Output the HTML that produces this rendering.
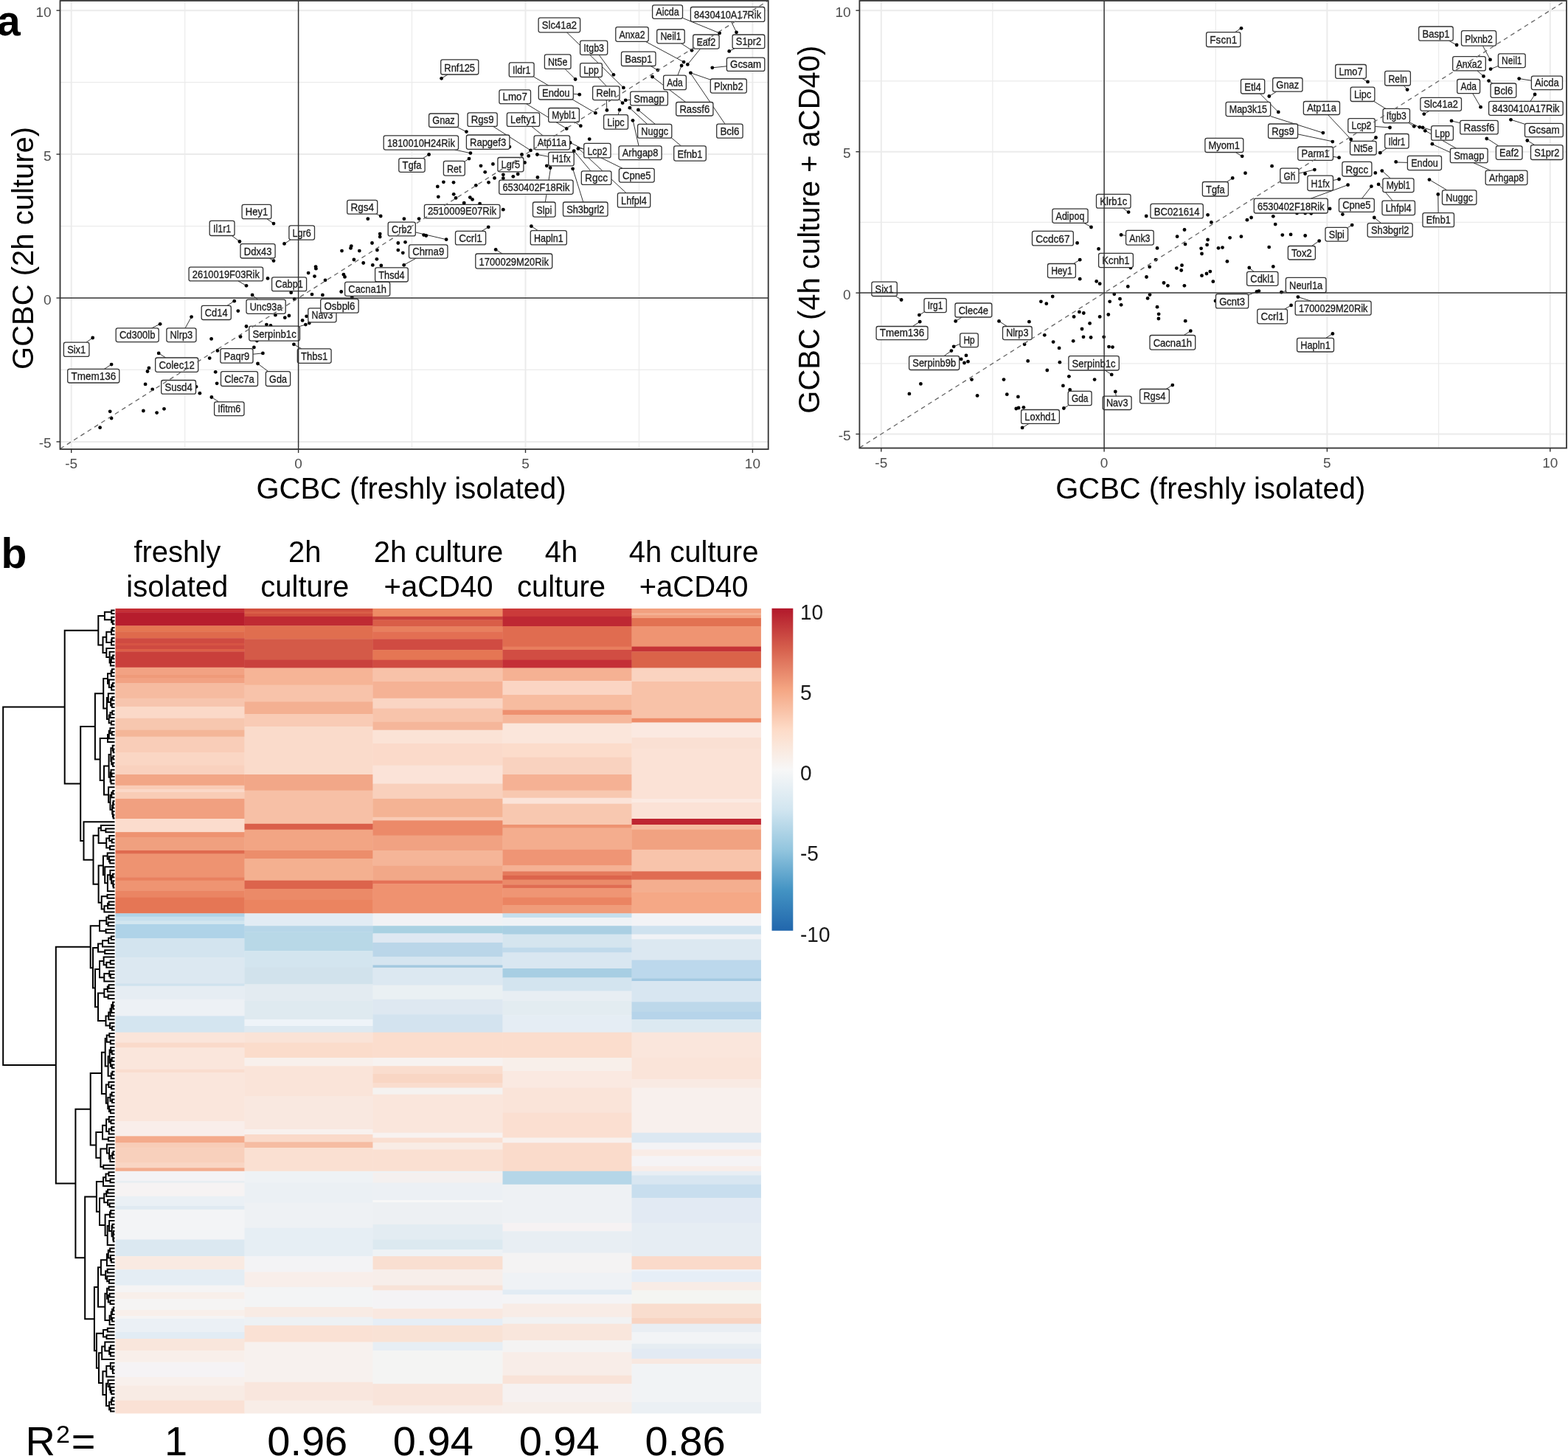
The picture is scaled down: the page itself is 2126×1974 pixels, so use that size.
<!DOCTYPE html><html><head><meta charset="utf-8"><title>Figure</title>
<style>html,body{margin:0;padding:0;background:#fff}svg{display:block}</style></head><body>
<svg width="2126" height="1974" viewBox="0 0 2126 1974" font-family="'Liberation Sans', Arial, sans-serif">
<rect width="2126" height="1974" fill="#fff"/>
<g>
<line x1="250.7" y1="1.0" x2="250.7" y2="609.0" stroke="#EBEBEB" stroke-width="1.2"/>
<line x1="81.5" y1="501.4" x2="1041.7" y2="501.4" stroke="#EBEBEB" stroke-width="1.2"/>
<line x1="558.5" y1="1.0" x2="558.5" y2="609.0" stroke="#EBEBEB" stroke-width="1.2"/>
<line x1="81.5" y1="306.6" x2="1041.7" y2="306.6" stroke="#EBEBEB" stroke-width="1.2"/>
<line x1="866.5" y1="1.0" x2="866.5" y2="609.0" stroke="#EBEBEB" stroke-width="1.2"/>
<line x1="81.5" y1="111.7" x2="1041.7" y2="111.7" stroke="#EBEBEB" stroke-width="1.2"/>
<line x1="96.7" y1="1.0" x2="96.7" y2="609.0" stroke="#EBEBEB" stroke-width="2"/>
<line x1="81.5" y1="598.9" x2="1041.7" y2="598.9" stroke="#EBEBEB" stroke-width="2"/>
<line x1="712.5" y1="1.0" x2="712.5" y2="609.0" stroke="#EBEBEB" stroke-width="2"/>
<line x1="81.5" y1="209.1" x2="1041.7" y2="209.1" stroke="#EBEBEB" stroke-width="2"/>
<line x1="1020.4" y1="1.0" x2="1020.4" y2="609.0" stroke="#EBEBEB" stroke-width="2"/>
<line x1="81.5" y1="14.2" x2="1041.7" y2="14.2" stroke="#EBEBEB" stroke-width="2"/>
<line x1="925.5" y1="24.4" x2="975.6" y2="44.9" stroke="#333" stroke-width="1"/>
<line x1="991.5" y1="29.4" x2="998.5" y2="43.8" stroke="#333" stroke-width="1"/>
<line x1="768.4" y1="43.8" x2="845.4" y2="118.9" stroke="#333" stroke-width="1"/>
<line x1="812.1" y1="74.3" x2="831.9" y2="101.3" stroke="#333" stroke-width="1"/>
<line x1="875.3" y1="56.3" x2="927.1" y2="84.1" stroke="#333" stroke-width="1"/>
<line x1="923.6" y1="58.8" x2="938.0" y2="68.3" stroke="#333" stroke-width="1"/>
<line x1="949.6" y1="66.1" x2="932.3" y2="87.4" stroke="#333" stroke-width="1"/>
<line x1="996.1" y1="65.7" x2="988.7" y2="69.4" stroke="#333" stroke-width="1"/>
<line x1="882.2" y1="89.5" x2="891.8" y2="95.1" stroke="#333" stroke-width="1"/>
<line x1="985.4" y1="89.8" x2="965.8" y2="91.8" stroke="#333" stroke-width="1"/>
<line x1="766.0" y1="93.4" x2="779.9" y2="107.2" stroke="#333" stroke-width="1"/>
<line x1="810.5" y1="104.5" x2="844.1" y2="139.6" stroke="#333" stroke-width="1"/>
<line x1="822.2" y1="135.6" x2="822.9" y2="149.5" stroke="#333" stroke-width="1"/>
<line x1="918.9" y1="102.1" x2="924.1" y2="89.0" stroke="#333" stroke-width="1"/>
<line x1="963.3" y1="108.1" x2="936.4" y2="98.8" stroke="#333" stroke-width="1"/>
<line x1="983.0" y1="168.2" x2="935.0" y2="97.5" stroke="#333" stroke-width="1"/>
<line x1="929.7" y1="138.5" x2="884.6" y2="104.2" stroke="#333" stroke-width="1"/>
<line x1="854.7" y1="135.4" x2="848.2" y2="135.9" stroke="#333" stroke-width="1"/>
<line x1="777.3" y1="127.3" x2="785.6" y2="128.0" stroke="#333" stroke-width="1"/>
<line x1="779.5" y1="165.7" x2="787.1" y2="170.6" stroke="#333" stroke-width="1"/>
<line x1="838.1" y1="155.7" x2="840.2" y2="149.0" stroke="#333" stroke-width="1"/>
<line x1="877.5" y1="168.3" x2="853.6" y2="146.2" stroke="#333" stroke-width="1"/>
<line x1="866.0" y1="197.8" x2="858.2" y2="163.2" stroke="#333" stroke-width="1"/>
<line x1="923.4" y1="197.8" x2="865.4" y2="149.0" stroke="#333" stroke-width="1"/>
<line x1="791.7" y1="201.8" x2="784.4" y2="200.9" stroke="#333" stroke-width="1"/>
<line x1="844.3" y1="228.4" x2="774.1" y2="193.9" stroke="#333" stroke-width="1"/>
<line x1="849.0" y1="261.6" x2="783.8" y2="200.8" stroke="#333" stroke-width="1"/>
<line x1="800.9" y1="231.8" x2="778.6" y2="205.0" stroke="#333" stroke-width="1"/>
<line x1="790.8" y1="274.0" x2="776.6" y2="228.7" stroke="#333" stroke-width="1"/>
<line x1="739.3" y1="274.0" x2="746.6" y2="227.9" stroke="#333" stroke-width="1"/>
<line x1="743.7" y1="212.3" x2="728.4" y2="209.5" stroke="#333" stroke-width="1"/>
<line x1="720.8" y1="171.4" x2="746.0" y2="192.0" stroke="#333" stroke-width="1"/>
<line x1="723.7" y1="104.2" x2="807.3" y2="153.1" stroke="#333" stroke-width="1"/>
<line x1="713.5" y1="140.7" x2="767.8" y2="174.1" stroke="#333" stroke-width="1"/>
<line x1="607.1" y1="101.0" x2="598.6" y2="106.3" stroke="#333" stroke-width="1"/>
<line x1="620.1" y1="172.5" x2="632.4" y2="178.6" stroke="#333" stroke-width="1"/>
<line x1="668.6" y1="171.4" x2="719.5" y2="203.9" stroke="#333" stroke-width="1"/>
<line x1="616.6" y1="203.1" x2="637.9" y2="207.6" stroke="#333" stroke-width="1"/>
<line x1="573.3" y1="214.7" x2="581.6" y2="209.5" stroke="#333" stroke-width="1"/>
<line x1="630.3" y1="218.8" x2="636.0" y2="215.1" stroke="#333" stroke-width="1"/>
<line x1="563.3" y1="314.9" x2="605.1" y2="324.7" stroke="#333" stroke-width="1"/>
<line x1="653.1" y1="313.4" x2="662.2" y2="307.8" stroke="#333" stroke-width="1"/>
<line x1="564.2" y1="350.1" x2="547.5" y2="359.3" stroke="#333" stroke-width="1"/>
<line x1="729.3" y1="312.6" x2="720.4" y2="306.7" stroke="#333" stroke-width="1"/>
<line x1="681.0" y1="344.0" x2="672.2" y2="338.4" stroke="#333" stroke-width="1"/>
<line x1="510.5" y1="290.2" x2="516.2" y2="293.0" stroke="#333" stroke-width="1"/>
<line x1="361.8" y1="296.7" x2="371.0" y2="303.1" stroke="#333" stroke-width="1"/>
<line x1="314.4" y1="319.5" x2="324.9" y2="327.5" stroke="#333" stroke-width="1"/>
<line x1="393.9" y1="325.1" x2="385.5" y2="330.4" stroke="#333" stroke-width="1"/>
<line x1="365.2" y1="350.0" x2="371.0" y2="353.6" stroke="#333" stroke-width="1"/>
<line x1="322.8" y1="380.9" x2="334.0" y2="387.3" stroke="#333" stroke-width="1"/>
<line x1="349.4" y1="406.1" x2="342.1" y2="399.9" stroke="#333" stroke-width="1"/>
<line x1="308.0" y1="414.4" x2="317.7" y2="408.1" stroke="#333" stroke-width="1"/>
<line x1="406.5" y1="442.4" x2="414.6" y2="440.1" stroke="#333" stroke-width="1"/>
<line x1="408.8" y1="472.8" x2="398.5" y2="467.0" stroke="#333" stroke-width="1"/>
<line x1="117.0" y1="464.2" x2="125.7" y2="458.0" stroke="#333" stroke-width="1"/>
<line x1="205.5" y1="444.9" x2="217.1" y2="439.3" stroke="#333" stroke-width="1"/>
<line x1="251.1" y1="444.9" x2="259.4" y2="429.9" stroke="#333" stroke-width="1"/>
<line x1="141.4" y1="500.3" x2="151.1" y2="494.1" stroke="#333" stroke-width="1"/>
<line x1="224.7" y1="485.0" x2="215.2" y2="478.9" stroke="#333" stroke-width="1"/>
<line x1="343.0" y1="480.2" x2="356.4" y2="478.9" stroke="#333" stroke-width="1"/>
<line x1="363.8" y1="503.7" x2="349.5" y2="493.0" stroke="#333" stroke-width="1"/>
<line x1="296.6" y1="544.9" x2="286.9" y2="538.5" stroke="#333" stroke-width="1"/>
<circle cx="498.8" cy="296.7" r="2.4" fill="#000"/>
<circle cx="516.2" cy="293.0" r="2.4" fill="#000"/>
<circle cx="547.9" cy="296.7" r="2.4" fill="#000"/>
<circle cx="515.2" cy="317.1" r="2.4" fill="#000"/>
<circle cx="515.2" cy="321.1" r="2.4" fill="#000"/>
<circle cx="504.5" cy="329.5" r="2.4" fill="#000"/>
<circle cx="539.8" cy="329.5" r="2.4" fill="#000"/>
<circle cx="549.5" cy="328.3" r="2.4" fill="#000"/>
<circle cx="476.3" cy="333.6" r="2.4" fill="#000"/>
<circle cx="475.5" cy="336.4" r="2.4" fill="#000"/>
<circle cx="463.5" cy="340.1" r="2.4" fill="#000"/>
<circle cx="487.3" cy="340.1" r="2.4" fill="#000"/>
<circle cx="511.4" cy="339.1" r="2.4" fill="#000"/>
<circle cx="539.8" cy="339.1" r="2.4" fill="#000"/>
<circle cx="546.3" cy="342.8" r="2.4" fill="#000"/>
<circle cx="479.9" cy="352.0" r="2.4" fill="#000"/>
<circle cx="492.7" cy="356.5" r="2.4" fill="#000"/>
<circle cx="510.9" cy="351.3" r="2.4" fill="#000"/>
<circle cx="505.3" cy="359.4" r="2.4" fill="#000"/>
<circle cx="516.8" cy="360.0" r="2.4" fill="#000"/>
<circle cx="428.1" cy="361.6" r="2.4" fill="#000"/>
<circle cx="428.4" cy="364.2" r="2.4" fill="#000"/>
<circle cx="418.1" cy="370.1" r="2.4" fill="#000"/>
<circle cx="426.5" cy="374.6" r="2.4" fill="#000"/>
<circle cx="465.9" cy="372.2" r="2.4" fill="#000"/>
<circle cx="467.5" cy="375.4" r="2.4" fill="#000"/>
<circle cx="441.0" cy="379.8" r="2.4" fill="#000"/>
<circle cx="363.0" cy="377.4" r="2.4" fill="#000"/>
<circle cx="371.0" cy="353.6" r="2.4" fill="#000"/>
<circle cx="342.1" cy="399.9" r="2.4" fill="#000"/>
<circle cx="423.0" cy="399.1" r="2.4" fill="#000"/>
<circle cx="437.4" cy="399.9" r="2.4" fill="#000"/>
<circle cx="399.2" cy="405.5" r="2.4" fill="#000"/>
<circle cx="322.8" cy="421.6" r="2.4" fill="#000"/>
<circle cx="373.4" cy="427.2" r="2.4" fill="#000"/>
<circle cx="386.3" cy="430.7" r="2.4" fill="#000"/>
<circle cx="391.9" cy="428.0" r="2.4" fill="#000"/>
<circle cx="410.1" cy="434.4" r="2.4" fill="#000"/>
<circle cx="415.6" cy="428.8" r="2.4" fill="#000"/>
<circle cx="414.4" cy="440.1" r="2.4" fill="#000"/>
<circle cx="419.3" cy="438.1" r="2.4" fill="#000"/>
<circle cx="334.0" cy="442.5" r="2.4" fill="#000"/>
<circle cx="361.4" cy="440.1" r="2.4" fill="#000"/>
<circle cx="367.0" cy="441.4" r="2.4" fill="#000"/>
<circle cx="259.6" cy="429.6" r="2.4" fill="#000"/>
<circle cx="326.0" cy="456.5" r="2.4" fill="#000"/>
<circle cx="286.6" cy="459.4" r="2.4" fill="#000"/>
<circle cx="371.0" cy="303.1" r="2.4" fill="#000"/>
<circle cx="324.9" cy="327.5" r="2.4" fill="#000"/>
<circle cx="385.5" cy="330.4" r="2.4" fill="#000"/>
<circle cx="334.0" cy="387.3" r="2.4" fill="#000"/>
<circle cx="394.7" cy="396.7" r="2.4" fill="#000"/>
<circle cx="462.7" cy="395.5" r="2.4" fill="#000"/>
<circle cx="317.7" cy="408.2" r="2.4" fill="#000"/>
<circle cx="348.4" cy="462.0" r="2.4" fill="#000"/>
<circle cx="344.4" cy="470.9" r="2.4" fill="#000"/>
<circle cx="294.9" cy="475.4" r="2.4" fill="#000"/>
<circle cx="356.4" cy="478.9" r="2.4" fill="#000"/>
<circle cx="284.2" cy="485.6" r="2.4" fill="#000"/>
<circle cx="349.5" cy="493.0" r="2.4" fill="#000"/>
<circle cx="292.2" cy="504.3" r="2.4" fill="#000"/>
<circle cx="294.1" cy="519.8" r="2.4" fill="#000"/>
<circle cx="270.9" cy="533.2" r="2.4" fill="#000"/>
<circle cx="286.9" cy="538.5" r="2.4" fill="#000"/>
<circle cx="201.9" cy="498.9" r="2.4" fill="#000"/>
<circle cx="200.0" cy="503.5" r="2.4" fill="#000"/>
<circle cx="197.1" cy="520.9" r="2.4" fill="#000"/>
<circle cx="206.7" cy="527.8" r="2.4" fill="#000"/>
<circle cx="149.2" cy="557.8" r="2.4" fill="#000"/>
<circle cx="151.1" cy="567.1" r="2.4" fill="#000"/>
<circle cx="135.6" cy="579.7" r="2.4" fill="#000"/>
<circle cx="194.4" cy="557.0" r="2.4" fill="#000"/>
<circle cx="212.6" cy="559.6" r="2.4" fill="#000"/>
<circle cx="222.5" cy="554.3" r="2.4" fill="#000"/>
<circle cx="215.2" cy="478.9" r="2.4" fill="#000"/>
<circle cx="217.1" cy="439.3" r="2.4" fill="#000"/>
<circle cx="125.7" cy="458.0" r="2.4" fill="#000"/>
<circle cx="151.1" cy="494.1" r="2.4" fill="#000"/>
<circle cx="266.0" cy="524.3" r="2.4" fill="#000"/>
<circle cx="398.4" cy="466.8" r="2.4" fill="#000"/>
<circle cx="975.6" cy="44.9" r="2.4" fill="#000"/>
<circle cx="998.5" cy="43.8" r="2.4" fill="#000"/>
<circle cx="988.7" cy="69.4" r="2.4" fill="#000"/>
<circle cx="938.0" cy="68.3" r="2.4" fill="#000"/>
<circle cx="927.1" cy="84.1" r="2.4" fill="#000"/>
<circle cx="932.3" cy="87.4" r="2.4" fill="#000"/>
<circle cx="924.1" cy="89.0" r="2.4" fill="#000"/>
<circle cx="936.4" cy="98.8" r="2.4" fill="#000"/>
<circle cx="965.8" cy="91.8" r="2.4" fill="#000"/>
<circle cx="891.8" cy="95.1" r="2.4" fill="#000"/>
<circle cx="884.6" cy="104.2" r="2.4" fill="#000"/>
<circle cx="831.9" cy="101.3" r="2.4" fill="#000"/>
<circle cx="845.4" cy="118.9" r="2.4" fill="#000"/>
<circle cx="780.1" cy="107.5" r="2.4" fill="#000"/>
<circle cx="785.7" cy="128.2" r="2.4" fill="#000"/>
<circle cx="848.2" cy="135.9" r="2.4" fill="#000"/>
<circle cx="844.1" cy="139.6" r="2.4" fill="#000"/>
<circle cx="822.9" cy="149.4" r="2.4" fill="#000"/>
<circle cx="840.0" cy="148.9" r="2.4" fill="#000"/>
<circle cx="853.9" cy="146.2" r="2.4" fill="#000"/>
<circle cx="865.4" cy="148.9" r="2.4" fill="#000"/>
<circle cx="858.0" cy="163.3" r="2.4" fill="#000"/>
<circle cx="807.4" cy="153.2" r="2.4" fill="#000"/>
<circle cx="787.3" cy="170.7" r="2.4" fill="#000"/>
<circle cx="768.2" cy="174.4" r="2.4" fill="#000"/>
<circle cx="799.2" cy="188.6" r="2.4" fill="#000"/>
<circle cx="773.1" cy="193.5" r="2.4" fill="#000"/>
<circle cx="598.6" cy="106.3" r="2.4" fill="#000"/>
<circle cx="632.4" cy="178.6" r="2.4" fill="#000"/>
<circle cx="637.9" cy="207.6" r="2.4" fill="#000"/>
<circle cx="636.0" cy="215.1" r="2.4" fill="#000"/>
<circle cx="581.6" cy="209.5" r="2.4" fill="#000"/>
<circle cx="690.9" cy="199.1" r="2.4" fill="#000"/>
<circle cx="719.5" cy="203.9" r="2.4" fill="#000"/>
<circle cx="707.5" cy="209.5" r="2.4" fill="#000"/>
<circle cx="716.7" cy="211.4" r="2.4" fill="#000"/>
<circle cx="728.4" cy="209.5" r="2.4" fill="#000"/>
<circle cx="783.9" cy="201.5" r="2.4" fill="#000"/>
<circle cx="778.2" cy="204.7" r="2.4" fill="#000"/>
<circle cx="711.5" cy="220.4" r="2.4" fill="#000"/>
<circle cx="668.4" cy="222.4" r="2.4" fill="#000"/>
<circle cx="652.0" cy="224.8" r="2.4" fill="#000"/>
<circle cx="657.7" cy="233.3" r="2.4" fill="#000"/>
<circle cx="682.3" cy="236.8" r="2.4" fill="#000"/>
<circle cx="682.3" cy="241.7" r="2.4" fill="#000"/>
<circle cx="670.5" cy="241.4" r="2.4" fill="#000"/>
<circle cx="695.8" cy="239.3" r="2.4" fill="#000"/>
<circle cx="702.2" cy="236.0" r="2.4" fill="#000"/>
<circle cx="741.3" cy="224.8" r="2.4" fill="#000"/>
<circle cx="746.1" cy="227.5" r="2.4" fill="#000"/>
<circle cx="728.9" cy="240.4" r="2.4" fill="#000"/>
<circle cx="776.6" cy="228.8" r="2.4" fill="#000"/>
<circle cx="662.5" cy="247.3" r="2.4" fill="#000"/>
<circle cx="645.3" cy="251.3" r="2.4" fill="#000"/>
<circle cx="601.4" cy="246.8" r="2.4" fill="#000"/>
<circle cx="615.0" cy="247.3" r="2.4" fill="#000"/>
<circle cx="593.3" cy="252.9" r="2.4" fill="#000"/>
<circle cx="615.2" cy="263.3" r="2.4" fill="#000"/>
<circle cx="618.0" cy="268.4" r="2.4" fill="#000"/>
<circle cx="594.3" cy="266.8" r="2.4" fill="#000"/>
<circle cx="637.3" cy="267.6" r="2.4" fill="#000"/>
<circle cx="640.5" cy="270.4" r="2.4" fill="#000"/>
<circle cx="629.2" cy="275.2" r="2.4" fill="#000"/>
<circle cx="650.6" cy="276.1" r="2.4" fill="#000"/>
<circle cx="682.3" cy="284.2" r="2.4" fill="#000"/>
<circle cx="568.1" cy="296.6" r="2.4" fill="#000"/>
<circle cx="574.6" cy="318.6" r="2.4" fill="#000"/>
<circle cx="577.8" cy="319.5" r="2.4" fill="#000"/>
<circle cx="605.1" cy="324.7" r="2.4" fill="#000"/>
<circle cx="547.7" cy="359.3" r="2.4" fill="#000"/>
<circle cx="662.2" cy="307.8" r="2.4" fill="#000"/>
<circle cx="672.2" cy="338.4" r="2.4" fill="#000"/>
<circle cx="720.4" cy="306.7" r="2.4" fill="#000"/>
<circle cx="477.3" cy="403.2" r="2.4" fill="#000"/>
<rect x="884.6" y="6.9" width="40.9" height="18.4" rx="2.5" fill="#fff" stroke="#333" stroke-width="1.3"/>
<text x="905.0" y="20.9" font-size="14.4" text-anchor="middle" fill="#1a1a1a" stroke="#1a1a1a" stroke-width="0.3" textLength="31.5" lengthAdjust="spacingAndGlyphs">Aicda</text>
<rect x="936.4" y="9.5" width="100.4" height="19.9" rx="2.5" fill="#fff" stroke="#333" stroke-width="1.3"/>
<text x="986.6" y="25.0" font-size="14.4" text-anchor="middle" fill="#1a1a1a" stroke="#1a1a1a" stroke-width="0.3" textLength="91.0" lengthAdjust="spacingAndGlyphs">8430410A17Rik</text>
<rect x="730.1" y="24.2" width="56.5" height="19.6" rx="2.5" fill="#fff" stroke="#333" stroke-width="1.3"/>
<text x="758.4" y="39.4" font-size="14.4" text-anchor="middle" fill="#1a1a1a" stroke="#1a1a1a" stroke-width="0.3" textLength="47.1" lengthAdjust="spacingAndGlyphs">Slc41a2</text>
<rect x="786.6" y="55.2" width="37.1" height="19.1" rx="2.5" fill="#fff" stroke="#333" stroke-width="1.3"/>
<text x="805.2" y="69.9" font-size="14.4" text-anchor="middle" fill="#1a1a1a" stroke="#1a1a1a" stroke-width="0.3" textLength="27.7" lengthAdjust="spacingAndGlyphs">Itgb3</text>
<rect x="834.8" y="36.7" width="44.4" height="19.6" rx="2.5" fill="#fff" stroke="#333" stroke-width="1.3"/>
<text x="857.0" y="51.9" font-size="14.4" text-anchor="middle" fill="#1a1a1a" stroke="#1a1a1a" stroke-width="0.3" textLength="35.0" lengthAdjust="spacingAndGlyphs">Anxa2</text>
<rect x="890.7" y="40.0" width="37.5" height="18.8" rx="2.5" fill="#fff" stroke="#333" stroke-width="1.3"/>
<text x="909.5" y="54.4" font-size="14.4" text-anchor="middle" fill="#1a1a1a" stroke="#1a1a1a" stroke-width="0.3" textLength="28.1" lengthAdjust="spacingAndGlyphs">Neil1</text>
<rect x="939.7" y="47.0" width="35.4" height="19.1" rx="2.5" fill="#fff" stroke="#333" stroke-width="1.3"/>
<text x="957.4" y="61.7" font-size="14.4" text-anchor="middle" fill="#1a1a1a" stroke="#1a1a1a" stroke-width="0.3" textLength="26.0" lengthAdjust="spacingAndGlyphs">Eaf2</text>
<rect x="993.1" y="47.0" width="43.7" height="18.7" rx="2.5" fill="#fff" stroke="#333" stroke-width="1.3"/>
<text x="1015.0" y="61.3" font-size="14.4" text-anchor="middle" fill="#1a1a1a" stroke="#1a1a1a" stroke-width="0.3" textLength="34.3" lengthAdjust="spacingAndGlyphs">S1pr2</text>
<rect x="842.5" y="70.2" width="46.5" height="19.3" rx="2.5" fill="#fff" stroke="#333" stroke-width="1.3"/>
<text x="865.8" y="85.1" font-size="14.4" text-anchor="middle" fill="#1a1a1a" stroke="#1a1a1a" stroke-width="0.3" textLength="37.1" lengthAdjust="spacingAndGlyphs">Basp1</text>
<rect x="985.4" y="78.1" width="51.4" height="18.3" rx="2.5" fill="#fff" stroke="#333" stroke-width="1.3"/>
<text x="1011.1" y="92.0" font-size="14.4" text-anchor="middle" fill="#1a1a1a" stroke="#1a1a1a" stroke-width="0.3" textLength="42.0" lengthAdjust="spacingAndGlyphs">Gcsam</text>
<rect x="738.4" y="73.8" width="35.6" height="19.6" rx="2.5" fill="#fff" stroke="#333" stroke-width="1.3"/>
<text x="756.2" y="89.0" font-size="14.4" text-anchor="middle" fill="#1a1a1a" stroke="#1a1a1a" stroke-width="0.3" textLength="26.2" lengthAdjust="spacingAndGlyphs">Nt5e</text>
<rect x="786.6" y="85.7" width="29.8" height="18.8" rx="2.5" fill="#fff" stroke="#333" stroke-width="1.3"/>
<text x="801.5" y="100.1" font-size="14.4" text-anchor="middle" fill="#1a1a1a" stroke="#1a1a1a" stroke-width="0.3" textLength="20.4" lengthAdjust="spacingAndGlyphs">Lpp</text>
<rect x="803.6" y="116.8" width="36.4" height="18.8" rx="2.5" fill="#fff" stroke="#333" stroke-width="1.3"/>
<text x="821.8" y="131.2" font-size="14.4" text-anchor="middle" fill="#1a1a1a" stroke="#1a1a1a" stroke-width="0.3" textLength="27.0" lengthAdjust="spacingAndGlyphs">Reln</text>
<rect x="899.6" y="102.1" width="30.8" height="19.6" rx="2.5" fill="#fff" stroke="#333" stroke-width="1.3"/>
<text x="915.0" y="117.3" font-size="14.4" text-anchor="middle" fill="#1a1a1a" stroke="#1a1a1a" stroke-width="0.3" textLength="21.4" lengthAdjust="spacingAndGlyphs">Ada</text>
<rect x="963.3" y="107.0" width="49.0" height="19.1" rx="2.5" fill="#fff" stroke="#333" stroke-width="1.3"/>
<text x="987.8" y="121.7" font-size="14.4" text-anchor="middle" fill="#1a1a1a" stroke="#1a1a1a" stroke-width="0.3" textLength="39.6" lengthAdjust="spacingAndGlyphs">Plxnb2</text>
<rect x="971.7" y="168.2" width="35.4" height="19.0" rx="2.5" fill="#fff" stroke="#333" stroke-width="1.3"/>
<text x="989.4" y="182.8" font-size="14.4" text-anchor="middle" fill="#1a1a1a" stroke="#1a1a1a" stroke-width="0.3" textLength="26.0" lengthAdjust="spacingAndGlyphs">Bcl6</text>
<rect x="916.7" y="138.5" width="50.2" height="18.5" rx="2.5" fill="#fff" stroke="#333" stroke-width="1.3"/>
<text x="941.8" y="152.6" font-size="14.4" text-anchor="middle" fill="#1a1a1a" stroke="#1a1a1a" stroke-width="0.3" textLength="40.8" lengthAdjust="spacingAndGlyphs">Rassf6</text>
<rect x="854.7" y="124.1" width="50.7" height="18.8" rx="2.5" fill="#fff" stroke="#333" stroke-width="1.3"/>
<text x="880.0" y="138.5" font-size="14.4" text-anchor="middle" fill="#1a1a1a" stroke="#1a1a1a" stroke-width="0.3" textLength="41.3" lengthAdjust="spacingAndGlyphs">Smagp</text>
<rect x="730.3" y="115.8" width="47.0" height="19.2" rx="2.5" fill="#fff" stroke="#333" stroke-width="1.3"/>
<text x="753.8" y="130.6" font-size="14.4" text-anchor="middle" fill="#1a1a1a" stroke="#1a1a1a" stroke-width="0.3" textLength="37.6" lengthAdjust="spacingAndGlyphs">Endou</text>
<rect x="743.7" y="146.5" width="41.7" height="19.2" rx="2.5" fill="#fff" stroke="#333" stroke-width="1.3"/>
<text x="764.5" y="161.3" font-size="14.4" text-anchor="middle" fill="#1a1a1a" stroke="#1a1a1a" stroke-width="0.3" textLength="32.3" lengthAdjust="spacingAndGlyphs">Mybl1</text>
<rect x="818.6" y="155.7" width="32.9" height="19.5" rx="2.5" fill="#fff" stroke="#333" stroke-width="1.3"/>
<text x="835.0" y="170.8" font-size="14.4" text-anchor="middle" fill="#1a1a1a" stroke="#1a1a1a" stroke-width="0.3" textLength="23.5" lengthAdjust="spacingAndGlyphs">Lipc</text>
<rect x="864.6" y="168.3" width="46.2" height="18.9" rx="2.5" fill="#fff" stroke="#333" stroke-width="1.3"/>
<text x="887.7" y="182.8" font-size="14.4" text-anchor="middle" fill="#1a1a1a" stroke="#1a1a1a" stroke-width="0.3" textLength="36.8" lengthAdjust="spacingAndGlyphs">Nuggc</text>
<rect x="839.1" y="197.8" width="58.0" height="18.9" rx="2.5" fill="#fff" stroke="#333" stroke-width="1.3"/>
<text x="868.1" y="212.3" font-size="14.4" text-anchor="middle" fill="#1a1a1a" stroke="#1a1a1a" stroke-width="0.3" textLength="48.6" lengthAdjust="spacingAndGlyphs">Arhgap8</text>
<rect x="913.7" y="197.8" width="43.6" height="20.3" rx="2.5" fill="#fff" stroke="#333" stroke-width="1.3"/>
<text x="935.5" y="213.7" font-size="14.4" text-anchor="middle" fill="#1a1a1a" stroke="#1a1a1a" stroke-width="0.3" textLength="34.2" lengthAdjust="spacingAndGlyphs">Efnb1</text>
<rect x="791.7" y="194.3" width="36.3" height="19.6" rx="2.5" fill="#fff" stroke="#333" stroke-width="1.3"/>
<text x="809.9" y="209.5" font-size="14.4" text-anchor="middle" fill="#1a1a1a" stroke="#1a1a1a" stroke-width="0.3" textLength="26.9" lengthAdjust="spacingAndGlyphs">Lcp2</text>
<rect x="839.4" y="228.4" width="47.8" height="18.7" rx="2.5" fill="#fff" stroke="#333" stroke-width="1.3"/>
<text x="863.3" y="242.7" font-size="14.4" text-anchor="middle" fill="#1a1a1a" stroke="#1a1a1a" stroke-width="0.3" textLength="38.4" lengthAdjust="spacingAndGlyphs">Cpne5</text>
<rect x="837.4" y="261.6" width="44.3" height="19.6" rx="2.5" fill="#fff" stroke="#333" stroke-width="1.3"/>
<text x="859.5" y="276.8" font-size="14.4" text-anchor="middle" fill="#1a1a1a" stroke="#1a1a1a" stroke-width="0.3" textLength="34.9" lengthAdjust="spacingAndGlyphs">Lhfpl4</text>
<rect x="788.3" y="231.8" width="40.6" height="18.6" rx="2.5" fill="#fff" stroke="#333" stroke-width="1.3"/>
<text x="808.6" y="246.0" font-size="14.4" text-anchor="middle" fill="#1a1a1a" stroke="#1a1a1a" stroke-width="0.3" textLength="31.2" lengthAdjust="spacingAndGlyphs">Rgcc</text>
<rect x="763.5" y="274.0" width="60.5" height="19.2" rx="2.5" fill="#fff" stroke="#333" stroke-width="1.3"/>
<text x="793.8" y="288.8" font-size="14.4" text-anchor="middle" fill="#1a1a1a" stroke="#1a1a1a" stroke-width="0.3" textLength="51.1" lengthAdjust="spacingAndGlyphs">Sh3bgrl2</text>
<rect x="722.5" y="274.0" width="30.5" height="20.1" rx="2.5" fill="#fff" stroke="#333" stroke-width="1.3"/>
<text x="737.8" y="289.7" font-size="14.4" text-anchor="middle" fill="#1a1a1a" stroke="#1a1a1a" stroke-width="0.3" textLength="21.1" lengthAdjust="spacingAndGlyphs">Slpi</text>
<rect x="743.7" y="206.3" width="34.5" height="18.5" rx="2.5" fill="#fff" stroke="#333" stroke-width="1.3"/>
<text x="761.0" y="220.4" font-size="14.4" text-anchor="middle" fill="#1a1a1a" stroke="#1a1a1a" stroke-width="0.3" textLength="25.1" lengthAdjust="spacingAndGlyphs">H1fx</text>
<rect x="724.1" y="183.8" width="48.5" height="19.0" rx="2.5" fill="#fff" stroke="#333" stroke-width="1.3"/>
<text x="748.4" y="198.4" font-size="14.4" text-anchor="middle" fill="#1a1a1a" stroke="#1a1a1a" stroke-width="0.3" textLength="39.1" lengthAdjust="spacingAndGlyphs">Atp11a</text>
<rect x="687.4" y="152.9" width="44.2" height="18.5" rx="2.5" fill="#fff" stroke="#333" stroke-width="1.3"/>
<text x="709.5" y="167.0" font-size="14.4" text-anchor="middle" fill="#1a1a1a" stroke="#1a1a1a" stroke-width="0.3" textLength="34.8" lengthAdjust="spacingAndGlyphs">Lefty1</text>
<rect x="690.3" y="84.9" width="33.8" height="19.3" rx="2.5" fill="#fff" stroke="#333" stroke-width="1.3"/>
<text x="707.2" y="99.8" font-size="14.4" text-anchor="middle" fill="#1a1a1a" stroke="#1a1a1a" stroke-width="0.3" textLength="24.4" lengthAdjust="spacingAndGlyphs">Ildr1</text>
<rect x="676.9" y="121.9" width="42.6" height="18.8" rx="2.5" fill="#fff" stroke="#333" stroke-width="1.3"/>
<text x="698.2" y="136.3" font-size="14.4" text-anchor="middle" fill="#1a1a1a" stroke="#1a1a1a" stroke-width="0.3" textLength="33.2" lengthAdjust="spacingAndGlyphs">Lmo7</text>
<rect x="597.7" y="80.9" width="51.1" height="20.1" rx="2.5" fill="#fff" stroke="#333" stroke-width="1.3"/>
<text x="623.2" y="96.6" font-size="14.4" text-anchor="middle" fill="#1a1a1a" stroke="#1a1a1a" stroke-width="0.3" textLength="41.7" lengthAdjust="spacingAndGlyphs">Rnf125</text>
<rect x="581.6" y="154.0" width="39.9" height="18.5" rx="2.5" fill="#fff" stroke="#333" stroke-width="1.3"/>
<text x="601.5" y="168.1" font-size="14.4" text-anchor="middle" fill="#1a1a1a" stroke="#1a1a1a" stroke-width="0.3" textLength="30.5" lengthAdjust="spacingAndGlyphs">Gnaz</text>
<rect x="634.0" y="152.9" width="40.2" height="18.5" rx="2.5" fill="#fff" stroke="#333" stroke-width="1.3"/>
<text x="654.1" y="167.0" font-size="14.4" text-anchor="middle" fill="#1a1a1a" stroke="#1a1a1a" stroke-width="0.3" textLength="30.8" lengthAdjust="spacingAndGlyphs">Rgs9</text>
<rect x="520.2" y="183.8" width="101.3" height="19.3" rx="2.5" fill="#fff" stroke="#333" stroke-width="1.3"/>
<text x="570.9" y="198.7" font-size="14.4" text-anchor="middle" fill="#1a1a1a" stroke="#1a1a1a" stroke-width="0.3" textLength="91.9" lengthAdjust="spacingAndGlyphs">1810010H24Rik</text>
<rect x="632.4" y="183.0" width="58.5" height="19.3" rx="2.5" fill="#fff" stroke="#333" stroke-width="1.3"/>
<text x="661.6" y="197.9" font-size="14.4" text-anchor="middle" fill="#1a1a1a" stroke="#1a1a1a" stroke-width="0.3" textLength="49.1" lengthAdjust="spacingAndGlyphs">Rapgef3</text>
<rect x="540.8" y="214.7" width="35.3" height="18.6" rx="2.5" fill="#fff" stroke="#333" stroke-width="1.3"/>
<text x="558.5" y="228.9" font-size="14.4" text-anchor="middle" fill="#1a1a1a" stroke="#1a1a1a" stroke-width="0.3" textLength="25.9" lengthAdjust="spacingAndGlyphs">Tgfa</text>
<rect x="601.4" y="218.4" width="28.9" height="19.7" rx="2.5" fill="#fff" stroke="#333" stroke-width="1.3"/>
<text x="615.8" y="233.7" font-size="14.4" text-anchor="middle" fill="#1a1a1a" stroke="#1a1a1a" stroke-width="0.3" textLength="19.5" lengthAdjust="spacingAndGlyphs">Ret</text>
<rect x="674.9" y="213.5" width="35.0" height="19.3" rx="2.5" fill="#fff" stroke="#333" stroke-width="1.3"/>
<text x="692.4" y="228.4" font-size="14.4" text-anchor="middle" fill="#1a1a1a" stroke="#1a1a1a" stroke-width="0.3" textLength="25.6" lengthAdjust="spacingAndGlyphs">Lgr5</text>
<rect x="676.7" y="244.2" width="100.4" height="19.1" rx="2.5" fill="#fff" stroke="#333" stroke-width="1.3"/>
<text x="726.9" y="258.9" font-size="14.4" text-anchor="middle" fill="#1a1a1a" stroke="#1a1a1a" stroke-width="0.3" textLength="91.0" lengthAdjust="spacingAndGlyphs">6530402F18Rik</text>
<rect x="575.4" y="277.3" width="102.5" height="18.5" rx="2.5" fill="#fff" stroke="#333" stroke-width="1.3"/>
<text x="626.6" y="291.4" font-size="14.4" text-anchor="middle" fill="#1a1a1a" stroke="#1a1a1a" stroke-width="0.3" textLength="93.1" lengthAdjust="spacingAndGlyphs">2510009E07Rik</text>
<rect x="526.2" y="301.2" width="37.1" height="18.7" rx="2.5" fill="#fff" stroke="#333" stroke-width="1.3"/>
<text x="544.8" y="315.5" font-size="14.4" text-anchor="middle" fill="#1a1a1a" stroke="#1a1a1a" stroke-width="0.3" textLength="27.7" lengthAdjust="spacingAndGlyphs">Crb2</text>
<rect x="617.5" y="313.4" width="41.1" height="18.5" rx="2.5" fill="#fff" stroke="#333" stroke-width="1.3"/>
<text x="638.0" y="327.5" font-size="14.4" text-anchor="middle" fill="#1a1a1a" stroke="#1a1a1a" stroke-width="0.3" textLength="31.7" lengthAdjust="spacingAndGlyphs">Ccrl1</text>
<rect x="554.5" y="331.9" width="52.4" height="18.2" rx="2.5" fill="#fff" stroke="#333" stroke-width="1.3"/>
<text x="580.7" y="345.7" font-size="14.4" text-anchor="middle" fill="#1a1a1a" stroke="#1a1a1a" stroke-width="0.3" textLength="43.0" lengthAdjust="spacingAndGlyphs">Chrna9</text>
<rect x="719.3" y="312.6" width="49.0" height="19.3" rx="2.5" fill="#fff" stroke="#333" stroke-width="1.3"/>
<text x="743.8" y="327.5" font-size="14.4" text-anchor="middle" fill="#1a1a1a" stroke="#1a1a1a" stroke-width="0.3" textLength="39.6" lengthAdjust="spacingAndGlyphs">Hapln1</text>
<rect x="644.8" y="344.0" width="103.9" height="20.1" rx="2.5" fill="#fff" stroke="#333" stroke-width="1.3"/>
<text x="696.8" y="359.7" font-size="14.4" text-anchor="middle" fill="#1a1a1a" stroke="#1a1a1a" stroke-width="0.3" textLength="94.5" lengthAdjust="spacingAndGlyphs">1700029M20Rik</text>
<rect x="508.6" y="362.8" width="44.7" height="19.2" rx="2.5" fill="#fff" stroke="#333" stroke-width="1.3"/>
<text x="531.0" y="377.6" font-size="14.4" text-anchor="middle" fill="#1a1a1a" stroke="#1a1a1a" stroke-width="0.3" textLength="35.3" lengthAdjust="spacingAndGlyphs">Thsd4</text>
<rect x="467.6" y="382.3" width="61.1" height="19.0" rx="2.5" fill="#fff" stroke="#333" stroke-width="1.3"/>
<text x="498.2" y="396.9" font-size="14.4" text-anchor="middle" fill="#1a1a1a" stroke="#1a1a1a" stroke-width="0.3" textLength="51.7" lengthAdjust="spacingAndGlyphs">Cacna1h</text>
<rect x="470.7" y="271.3" width="41.0" height="18.9" rx="2.5" fill="#fff" stroke="#333" stroke-width="1.3"/>
<text x="491.2" y="285.8" font-size="14.4" text-anchor="middle" fill="#1a1a1a" stroke="#1a1a1a" stroke-width="0.3" textLength="31.6" lengthAdjust="spacingAndGlyphs">Rgs4</text>
<rect x="328.1" y="277.4" width="39.7" height="19.3" rx="2.5" fill="#fff" stroke="#333" stroke-width="1.3"/>
<text x="348.0" y="292.3" font-size="14.4" text-anchor="middle" fill="#1a1a1a" stroke="#1a1a1a" stroke-width="0.3" textLength="30.3" lengthAdjust="spacingAndGlyphs">Hey1</text>
<rect x="284.2" y="299.4" width="33.8" height="20.1" rx="2.5" fill="#fff" stroke="#333" stroke-width="1.3"/>
<text x="301.1" y="315.1" font-size="14.4" text-anchor="middle" fill="#1a1a1a" stroke="#1a1a1a" stroke-width="0.3" textLength="24.4" lengthAdjust="spacingAndGlyphs">Il1r1</text>
<rect x="391.9" y="305.8" width="34.6" height="19.3" rx="2.5" fill="#fff" stroke="#333" stroke-width="1.3"/>
<text x="409.2" y="320.7" font-size="14.4" text-anchor="middle" fill="#1a1a1a" stroke="#1a1a1a" stroke-width="0.3" textLength="25.2" lengthAdjust="spacingAndGlyphs">Lgr6</text>
<rect x="326.0" y="330.7" width="47.1" height="19.3" rx="2.5" fill="#fff" stroke="#333" stroke-width="1.3"/>
<text x="349.6" y="345.6" font-size="14.4" text-anchor="middle" fill="#1a1a1a" stroke="#1a1a1a" stroke-width="0.3" textLength="37.7" lengthAdjust="spacingAndGlyphs">Ddx43</text>
<rect x="256.1" y="362.1" width="100.5" height="18.8" rx="2.5" fill="#fff" stroke="#333" stroke-width="1.3"/>
<text x="306.4" y="376.5" font-size="14.4" text-anchor="middle" fill="#1a1a1a" stroke="#1a1a1a" stroke-width="0.3" textLength="91.1" lengthAdjust="spacingAndGlyphs">2610019F03Rik</text>
<rect x="368.6" y="375.8" width="47.0" height="18.9" rx="2.5" fill="#fff" stroke="#333" stroke-width="1.3"/>
<text x="392.1" y="390.3" font-size="14.4" text-anchor="middle" fill="#1a1a1a" stroke="#1a1a1a" stroke-width="0.3" textLength="37.6" lengthAdjust="spacingAndGlyphs">Cabp1</text>
<rect x="334.0" y="406.1" width="53.2" height="19.2" rx="2.5" fill="#fff" stroke="#333" stroke-width="1.3"/>
<text x="360.6" y="420.9" font-size="14.4" text-anchor="middle" fill="#1a1a1a" stroke="#1a1a1a" stroke-width="0.3" textLength="43.8" lengthAdjust="spacingAndGlyphs">Unc93a</text>
<rect x="273.2" y="414.4" width="40.1" height="19.1" rx="2.5" fill="#fff" stroke="#333" stroke-width="1.3"/>
<text x="293.2" y="429.1" font-size="14.4" text-anchor="middle" fill="#1a1a1a" stroke="#1a1a1a" stroke-width="0.3" textLength="30.7" lengthAdjust="spacingAndGlyphs">Cd14</text>
<rect x="417.8" y="417.8" width="38.2" height="19.0" rx="2.5" fill="#fff" stroke="#333" stroke-width="1.3"/>
<text x="436.9" y="432.4" font-size="14.4" text-anchor="middle" fill="#1a1a1a" stroke="#1a1a1a" stroke-width="0.3" textLength="28.8" lengthAdjust="spacingAndGlyphs">Nav3</text>
<rect x="434.7" y="405.3" width="51.4" height="18.9" rx="2.5" fill="#fff" stroke="#333" stroke-width="1.3"/>
<text x="460.4" y="419.8" font-size="14.4" text-anchor="middle" fill="#1a1a1a" stroke="#1a1a1a" stroke-width="0.3" textLength="42.0" lengthAdjust="spacingAndGlyphs">Osbpl6</text>
<rect x="337.8" y="442.2" width="68.7" height="19.9" rx="2.5" fill="#fff" stroke="#333" stroke-width="1.3"/>
<text x="372.1" y="457.7" font-size="14.4" text-anchor="middle" fill="#1a1a1a" stroke="#1a1a1a" stroke-width="0.3" textLength="59.3" lengthAdjust="spacingAndGlyphs">Serpinb1c</text>
<rect x="403.3" y="472.8" width="45.8" height="19.5" rx="2.5" fill="#fff" stroke="#333" stroke-width="1.3"/>
<text x="426.2" y="487.9" font-size="14.4" text-anchor="middle" fill="#1a1a1a" stroke="#1a1a1a" stroke-width="0.3" textLength="36.4" lengthAdjust="spacingAndGlyphs">Thbs1</text>
<rect x="86.4" y="464.2" width="34.5" height="19.2" rx="2.5" fill="#fff" stroke="#333" stroke-width="1.3"/>
<text x="103.7" y="479.0" font-size="14.4" text-anchor="middle" fill="#1a1a1a" stroke="#1a1a1a" stroke-width="0.3" textLength="25.1" lengthAdjust="spacingAndGlyphs">Six1</text>
<rect x="157.2" y="444.9" width="58.0" height="18.7" rx="2.5" fill="#fff" stroke="#333" stroke-width="1.3"/>
<text x="186.2" y="459.2" font-size="14.4" text-anchor="middle" fill="#1a1a1a" stroke="#1a1a1a" stroke-width="0.3" textLength="48.6" lengthAdjust="spacingAndGlyphs">Cd300lb</text>
<rect x="225.9" y="444.9" width="40.1" height="18.7" rx="2.5" fill="#fff" stroke="#333" stroke-width="1.3"/>
<text x="245.9" y="459.2" font-size="14.4" text-anchor="middle" fill="#1a1a1a" stroke="#1a1a1a" stroke-width="0.3" textLength="30.7" lengthAdjust="spacingAndGlyphs">Nlrp3</text>
<rect x="91.7" y="500.3" width="70.1" height="18.7" rx="2.5" fill="#fff" stroke="#333" stroke-width="1.3"/>
<text x="126.8" y="514.6" font-size="14.4" text-anchor="middle" fill="#1a1a1a" stroke="#1a1a1a" stroke-width="0.3" textLength="60.7" lengthAdjust="spacingAndGlyphs">Tmem136</text>
<rect x="210.7" y="485.0" width="58.0" height="19.3" rx="2.5" fill="#fff" stroke="#333" stroke-width="1.3"/>
<text x="239.7" y="499.9" font-size="14.4" text-anchor="middle" fill="#1a1a1a" stroke="#1a1a1a" stroke-width="0.3" textLength="48.6" lengthAdjust="spacingAndGlyphs">Colec12</text>
<rect x="218.7" y="515.5" width="46.8" height="18.7" rx="2.5" fill="#fff" stroke="#333" stroke-width="1.3"/>
<text x="242.1" y="529.8" font-size="14.4" text-anchor="middle" fill="#1a1a1a" stroke="#1a1a1a" stroke-width="0.3" textLength="37.4" lengthAdjust="spacingAndGlyphs">Susd4</text>
<rect x="298.9" y="472.7" width="44.1" height="19.5" rx="2.5" fill="#fff" stroke="#333" stroke-width="1.3"/>
<text x="320.9" y="487.8" font-size="14.4" text-anchor="middle" fill="#1a1a1a" stroke="#1a1a1a" stroke-width="0.3" textLength="34.7" lengthAdjust="spacingAndGlyphs">Paqr9</text>
<rect x="299.5" y="503.7" width="50.0" height="19.8" rx="2.5" fill="#fff" stroke="#333" stroke-width="1.3"/>
<text x="324.5" y="519.1" font-size="14.4" text-anchor="middle" fill="#1a1a1a" stroke="#1a1a1a" stroke-width="0.3" textLength="40.6" lengthAdjust="spacingAndGlyphs">Clec7a</text>
<rect x="360.4" y="503.7" width="33.2" height="19.8" rx="2.5" fill="#fff" stroke="#333" stroke-width="1.3"/>
<text x="377.0" y="519.1" font-size="14.4" text-anchor="middle" fill="#1a1a1a" stroke="#1a1a1a" stroke-width="0.3" textLength="23.8" lengthAdjust="spacingAndGlyphs">Gda</text>
<rect x="290.6" y="544.9" width="40.4" height="18.7" rx="2.5" fill="#fff" stroke="#333" stroke-width="1.3"/>
<text x="310.8" y="559.2" font-size="14.4" text-anchor="middle" fill="#1a1a1a" stroke="#1a1a1a" stroke-width="0.3" textLength="31.0" lengthAdjust="spacingAndGlyphs">Ifitm6</text>
<line x1="404.6" y1="1.0" x2="404.6" y2="609.0" stroke="#333" stroke-width="1.5"/>
<line x1="81.5" y1="404.0" x2="1041.7" y2="404.0" stroke="#333" stroke-width="1.5"/>
<line x1="81.5" y1="608.5" x2="1041.3" y2="1.0" stroke="#666" stroke-width="1.3" stroke-dasharray="6,5"/>
<rect x="81.5" y="1.0" width="960.2" height="608.0" fill="none" stroke="#333" stroke-width="1.8"/>
<line x1="96.7" y1="609.0" x2="96.7" y2="614.0" stroke="#333" stroke-width="1.4"/>
<text x="96.7" y="635.3" font-size="19" text-anchor="middle" fill="#4D4D4D">-5</text>
<line x1="76.5" y1="598.9" x2="81.5" y2="598.9" stroke="#333" stroke-width="1.4"/>
<text x="69.7" y="607.4" font-size="19" text-anchor="end" fill="#4D4D4D">-5</text>
<line x1="404.6" y1="609.0" x2="404.6" y2="614.0" stroke="#333" stroke-width="1.4"/>
<text x="404.6" y="635.3" font-size="19" text-anchor="middle" fill="#4D4D4D">0</text>
<line x1="76.5" y1="404.0" x2="81.5" y2="404.0" stroke="#333" stroke-width="1.4"/>
<text x="69.7" y="412.5" font-size="19" text-anchor="end" fill="#4D4D4D">0</text>
<line x1="712.5" y1="609.0" x2="712.5" y2="614.0" stroke="#333" stroke-width="1.4"/>
<text x="712.5" y="635.3" font-size="19" text-anchor="middle" fill="#4D4D4D">5</text>
<line x1="76.5" y1="209.1" x2="81.5" y2="209.1" stroke="#333" stroke-width="1.4"/>
<text x="69.7" y="217.6" font-size="19" text-anchor="end" fill="#4D4D4D">5</text>
<line x1="1020.4" y1="609.0" x2="1020.4" y2="614.0" stroke="#333" stroke-width="1.4"/>
<text x="1020.4" y="635.3" font-size="19" text-anchor="middle" fill="#4D4D4D">10</text>
<line x1="76.5" y1="14.2" x2="81.5" y2="14.2" stroke="#333" stroke-width="1.4"/>
<text x="69.7" y="22.7" font-size="19" text-anchor="end" fill="#4D4D4D">10</text>
</g>
<g>
<line x1="1345.9" y1="1.0" x2="1345.9" y2="607.5" stroke="#EBEBEB" stroke-width="1.2"/>
<line x1="1165.4" y1="492.8" x2="2124.0" y2="492.8" stroke="#EBEBEB" stroke-width="1.2"/>
<line x1="1648.3" y1="1.0" x2="1648.3" y2="607.5" stroke="#EBEBEB" stroke-width="1.2"/>
<line x1="1165.4" y1="301.4" x2="2124.0" y2="301.4" stroke="#EBEBEB" stroke-width="1.2"/>
<line x1="1950.6" y1="1.0" x2="1950.6" y2="607.5" stroke="#EBEBEB" stroke-width="1.2"/>
<line x1="1165.4" y1="109.9" x2="2124.0" y2="109.9" stroke="#EBEBEB" stroke-width="1.2"/>
<line x1="1194.8" y1="1.0" x2="1194.8" y2="607.5" stroke="#EBEBEB" stroke-width="2"/>
<line x1="1165.4" y1="588.5" x2="2124.0" y2="588.5" stroke="#EBEBEB" stroke-width="2"/>
<line x1="1799.4" y1="1.0" x2="1799.4" y2="607.5" stroke="#EBEBEB" stroke-width="2"/>
<line x1="1165.4" y1="205.7" x2="2124.0" y2="205.7" stroke="#EBEBEB" stroke-width="2"/>
<line x1="2101.8" y1="1.0" x2="2101.8" y2="607.5" stroke="#EBEBEB" stroke-width="2"/>
<line x1="1165.4" y1="14.2" x2="2124.0" y2="14.2" stroke="#EBEBEB" stroke-width="2"/>
<line x1="1674.4" y1="43.7" x2="1683.0" y2="38.3" stroke="#333" stroke-width="1"/>
<line x1="1964.5" y1="55.2" x2="1975.1" y2="61.0" stroke="#333" stroke-width="1"/>
<line x1="2010.5" y1="62.1" x2="2020.5" y2="80.9" stroke="#333" stroke-width="1"/>
<line x1="2031.4" y1="89.5" x2="2021.1" y2="93.6" stroke="#333" stroke-width="1"/>
<line x1="2003.0" y1="95.9" x2="2011.5" y2="103.4" stroke="#333" stroke-width="1"/>
<line x1="2076.4" y1="109.2" x2="2059.7" y2="106.6" stroke="#333" stroke-width="1"/>
<line x1="1996.8" y1="126.7" x2="2007.6" y2="145.2" stroke="#333" stroke-width="1"/>
<line x1="2023.8" y1="113.0" x2="2018.6" y2="109.6" stroke="#333" stroke-width="1"/>
<line x1="2075.0" y1="137.4" x2="2081.1" y2="128.0" stroke="#333" stroke-width="1"/>
<line x1="1938.2" y1="150.3" x2="1930.8" y2="154.6" stroke="#333" stroke-width="1"/>
<line x1="1903.4" y1="116.0" x2="1908.1" y2="121.6" stroke="#333" stroke-width="1"/>
<line x1="1846.8" y1="106.3" x2="1854.6" y2="111.1" stroke="#333" stroke-width="1"/>
<line x1="1730.8" y1="124.2" x2="1721.0" y2="130.3" stroke="#333" stroke-width="1"/>
<line x1="1708.4" y1="127.0" x2="1733.5" y2="152.1" stroke="#333" stroke-width="1"/>
<line x1="1863.0" y1="137.5" x2="1917.3" y2="171.3" stroke="#333" stroke-width="1"/>
<line x1="1722.7" y1="157.6" x2="1794.0" y2="180.2" stroke="#333" stroke-width="1"/>
<line x1="1800.4" y1="155.5" x2="1832.0" y2="189.2" stroke="#333" stroke-width="1"/>
<line x1="1911.5" y1="166.0" x2="1924.5" y2="172.5" stroke="#333" stroke-width="1"/>
<line x1="1864.3" y1="171.5" x2="1884.6" y2="172.9" stroke="#333" stroke-width="1"/>
<line x1="1759.6" y1="181.9" x2="1806.8" y2="191.8" stroke="#333" stroke-width="1"/>
<line x1="1979.8" y1="166.7" x2="1967.8" y2="163.9" stroke="#333" stroke-width="1"/>
<line x1="2067.5" y1="168.3" x2="2048.4" y2="162.2" stroke="#333" stroke-width="1"/>
<line x1="1940.7" y1="176.3" x2="1929.0" y2="173.0" stroke="#333" stroke-width="1"/>
<line x1="1880.1" y1="201.1" x2="1871.2" y2="207.4" stroke="#333" stroke-width="1"/>
<line x1="1859.9" y1="191.3" x2="1865.9" y2="186.4" stroke="#333" stroke-width="1"/>
<line x1="1675.3" y1="206.5" x2="1684.0" y2="211.9" stroke="#333" stroke-width="1"/>
<line x1="1807.5" y1="212.3" x2="1815.8" y2="213.8" stroke="#333" stroke-width="1"/>
<line x1="2031.8" y1="197.8" x2="2016.0" y2="187.6" stroke="#333" stroke-width="1"/>
<line x1="2081.0" y1="196.7" x2="2071.0" y2="190.6" stroke="#333" stroke-width="1"/>
<line x1="1974.5" y1="201.1" x2="1933.2" y2="177.6" stroke="#333" stroke-width="1"/>
<line x1="1908.4" y1="220.4" x2="1892.9" y2="220.0" stroke="#333" stroke-width="1"/>
<line x1="2020.9" y1="231.1" x2="1942.8" y2="195.9" stroke="#333" stroke-width="1"/>
<line x1="1761.0" y1="235.1" x2="1782.5" y2="230.0" stroke="#333" stroke-width="1"/>
<line x1="1807.5" y1="244.5" x2="1816.0" y2="242.7" stroke="#333" stroke-width="1"/>
<line x1="1885.4" y1="241.9" x2="1874.1" y2="231.8" stroke="#333" stroke-width="1"/>
<line x1="1962.0" y1="257.8" x2="1938.2" y2="243.7" stroke="#333" stroke-width="1"/>
<line x1="1888.2" y1="272.2" x2="1869.2" y2="249.5" stroke="#333" stroke-width="1"/>
<line x1="1950.1" y1="288.7" x2="1949.8" y2="263.4" stroke="#333" stroke-width="1"/>
<line x1="1872.9" y1="302.7" x2="1863.1" y2="295.0" stroke="#333" stroke-width="1"/>
<line x1="1663.5" y1="246.5" x2="1671.3" y2="241.6" stroke="#333" stroke-width="1"/>
<line x1="1777.2" y1="269.2" x2="1827.6" y2="250.7" stroke="#333" stroke-width="1"/>
<line x1="1846.5" y1="269.2" x2="1859.4" y2="252.7" stroke="#333" stroke-width="1"/>
<line x1="1522.6" y1="282.2" x2="1530.2" y2="287.8" stroke="#333" stroke-width="1"/>
<line x1="1469.4" y1="302.3" x2="1479.5" y2="307.6" stroke="#333" stroke-width="1"/>
<line x1="1526.6" y1="319.4" x2="1520.1" y2="318.4" stroke="#333" stroke-width="1"/>
<line x1="1827.6" y1="308.5" x2="1833.2" y2="305.1" stroke="#333" stroke-width="1"/>
<line x1="1778.5" y1="333.5" x2="1788.7" y2="326.6" stroke="#333" stroke-width="1"/>
<line x1="1455.5" y1="357.5" x2="1464.2" y2="352.3" stroke="#333" stroke-width="1"/>
<line x1="1700.2" y1="368.4" x2="1693.5" y2="362.9" stroke="#333" stroke-width="1"/>
<line x1="1743.4" y1="394.5" x2="1737.4" y2="396.2" stroke="#333" stroke-width="1"/>
<line x1="1692.7" y1="399.9" x2="1705.5" y2="395.0" stroke="#333" stroke-width="1"/>
<line x1="1777.6" y1="408.2" x2="1759.9" y2="402.6" stroke="#333" stroke-width="1"/>
<line x1="1741.7" y1="419.2" x2="1750.6" y2="413.9" stroke="#333" stroke-width="1"/>
<line x1="1605.2" y1="454.5" x2="1614.3" y2="448.7" stroke="#333" stroke-width="1"/>
<line x1="1797.7" y1="458.4" x2="1806.9" y2="452.4" stroke="#333" stroke-width="1"/>
<line x1="1581.1" y1="527.5" x2="1589.8" y2="522.1" stroke="#333" stroke-width="1"/>
<line x1="1214.3" y1="401.5" x2="1222.1" y2="406.5" stroke="#333" stroke-width="1"/>
<line x1="1253.0" y1="423.1" x2="1246.4" y2="427.1" stroke="#333" stroke-width="1"/>
<line x1="1304.5" y1="430.0" x2="1295.7" y2="435.4" stroke="#333" stroke-width="1"/>
<line x1="1237.3" y1="442.5" x2="1247.2" y2="436.2" stroke="#333" stroke-width="1"/>
<line x1="1301.7" y1="466.3" x2="1293.2" y2="469.8" stroke="#333" stroke-width="1"/>
<line x1="1365.4" y1="442.5" x2="1354.5" y2="435.4" stroke="#333" stroke-width="1"/>
<line x1="1279.9" y1="482.7" x2="1289.9" y2="475.6" stroke="#333" stroke-width="1"/>
<line x1="1498.2" y1="502.0" x2="1507.2" y2="507.8" stroke="#333" stroke-width="1"/>
<line x1="1448.5" y1="549.7" x2="1442.4" y2="553.5" stroke="#333" stroke-width="1"/>
<line x1="1513.3" y1="537.2" x2="1512.3" y2="530.9" stroke="#333" stroke-width="1"/>
<line x1="1395.1" y1="574.4" x2="1386.1" y2="579.9" stroke="#333" stroke-width="1"/>
<circle cx="1683.0" cy="38.3" r="2.4" fill="#000"/>
<circle cx="1720.8" cy="130.5" r="2.4" fill="#000"/>
<circle cx="1733.3" cy="151.9" r="2.4" fill="#000"/>
<circle cx="1793.9" cy="180.1" r="2.4" fill="#000"/>
<circle cx="1806.8" cy="192.1" r="2.4" fill="#000"/>
<circle cx="1831.7" cy="188.9" r="2.4" fill="#000"/>
<circle cx="1854.5" cy="110.9" r="2.4" fill="#000"/>
<circle cx="1865.5" cy="186.5" r="2.4" fill="#000"/>
<circle cx="1975.1" cy="61.0" r="2.4" fill="#000"/>
<circle cx="2020.5" cy="80.9" r="2.4" fill="#000"/>
<circle cx="2021.1" cy="93.6" r="2.4" fill="#000"/>
<circle cx="2011.5" cy="103.4" r="2.4" fill="#000"/>
<circle cx="2018.6" cy="109.6" r="2.4" fill="#000"/>
<circle cx="2059.7" cy="106.6" r="2.4" fill="#000"/>
<circle cx="2007.6" cy="145.2" r="2.4" fill="#000"/>
<circle cx="2081.1" cy="128.0" r="2.4" fill="#000"/>
<circle cx="1930.8" cy="154.6" r="2.4" fill="#000"/>
<circle cx="1908.1" cy="121.6" r="2.4" fill="#000"/>
<circle cx="1917.3" cy="171.3" r="2.4" fill="#000"/>
<circle cx="1924.8" cy="172.3" r="2.4" fill="#000"/>
<circle cx="1929.1" cy="173.0" r="2.4" fill="#000"/>
<circle cx="1932.3" cy="177.3" r="2.4" fill="#000"/>
<circle cx="1884.5" cy="173.0" r="2.4" fill="#000"/>
<circle cx="1968.0" cy="163.8" r="2.4" fill="#000"/>
<circle cx="2048.5" cy="162.3" r="2.4" fill="#000"/>
<circle cx="1941.9" cy="195.2" r="2.4" fill="#000"/>
<circle cx="2015.8" cy="188.0" r="2.4" fill="#000"/>
<circle cx="2070.8" cy="190.5" r="2.4" fill="#000"/>
<circle cx="1871.3" cy="207.2" r="2.4" fill="#000"/>
<circle cx="1815.6" cy="213.7" r="2.4" fill="#000"/>
<circle cx="1892.7" cy="219.4" r="2.4" fill="#000"/>
<circle cx="1724.6" cy="225.2" r="2.4" fill="#000"/>
<circle cx="1769.6" cy="235.5" r="2.4" fill="#000"/>
<circle cx="1782.4" cy="230.1" r="2.4" fill="#000"/>
<circle cx="1864.8" cy="234.4" r="2.4" fill="#000"/>
<circle cx="1815.6" cy="243.0" r="2.4" fill="#000"/>
<circle cx="1873.8" cy="231.6" r="2.4" fill="#000"/>
<circle cx="1938.0" cy="243.6" r="2.4" fill="#000"/>
<circle cx="1684.2" cy="211.8" r="2.4" fill="#000"/>
<circle cx="1688.5" cy="234.7" r="2.4" fill="#000"/>
<circle cx="1671.2" cy="241.4" r="2.4" fill="#000"/>
<circle cx="1827.6" cy="250.7" r="2.4" fill="#000"/>
<circle cx="1859.4" cy="252.7" r="2.4" fill="#000"/>
<circle cx="1869.1" cy="249.9" r="2.4" fill="#000"/>
<circle cx="1803.1" cy="282.9" r="2.4" fill="#000"/>
<circle cx="1820.4" cy="290.6" r="2.4" fill="#000"/>
<circle cx="1863.3" cy="295.0" r="2.4" fill="#000"/>
<circle cx="1833.2" cy="305.1" r="2.4" fill="#000"/>
<circle cx="1788.7" cy="326.6" r="2.4" fill="#000"/>
<circle cx="1637.6" cy="291.3" r="2.4" fill="#000"/>
<circle cx="1642.4" cy="301.4" r="2.4" fill="#000"/>
<circle cx="1690.9" cy="298.2" r="2.4" fill="#000"/>
<circle cx="1696.6" cy="295.0" r="2.4" fill="#000"/>
<circle cx="1726.3" cy="293.3" r="2.4" fill="#000"/>
<circle cx="1729.2" cy="304.1" r="2.4" fill="#000"/>
<circle cx="1758.5" cy="289.0" r="2.4" fill="#000"/>
<circle cx="1769.7" cy="289.0" r="2.4" fill="#000"/>
<circle cx="1777.7" cy="289.3" r="2.4" fill="#000"/>
<circle cx="1606.0" cy="311.5" r="2.4" fill="#000"/>
<circle cx="1596.1" cy="320.7" r="2.4" fill="#000"/>
<circle cx="1667.6" cy="322.3" r="2.4" fill="#000"/>
<circle cx="1682.9" cy="320.7" r="2.4" fill="#000"/>
<circle cx="1738.8" cy="318.6" r="2.4" fill="#000"/>
<circle cx="1750.1" cy="317.9" r="2.4" fill="#000"/>
<circle cx="1769.7" cy="319.5" r="2.4" fill="#000"/>
<circle cx="1637.6" cy="325.0" r="2.4" fill="#000"/>
<circle cx="1607.0" cy="331.1" r="2.4" fill="#000"/>
<circle cx="1636.6" cy="331.9" r="2.4" fill="#000"/>
<circle cx="1628.6" cy="336.8" r="2.4" fill="#000"/>
<circle cx="1652.0" cy="336.3" r="2.4" fill="#000"/>
<circle cx="1657.5" cy="335.6" r="2.4" fill="#000"/>
<circle cx="1629.5" cy="344.0" r="2.4" fill="#000"/>
<circle cx="1720.7" cy="335.1" r="2.4" fill="#000"/>
<circle cx="1663.9" cy="354.4" r="2.4" fill="#000"/>
<circle cx="1602.5" cy="359.7" r="2.4" fill="#000"/>
<circle cx="1595.3" cy="363.6" r="2.4" fill="#000"/>
<circle cx="1601.7" cy="366.5" r="2.4" fill="#000"/>
<circle cx="1693.8" cy="363.0" r="2.4" fill="#000"/>
<circle cx="1726.3" cy="361.4" r="2.4" fill="#000"/>
<circle cx="1640.8" cy="368.1" r="2.4" fill="#000"/>
<circle cx="1636.0" cy="371.0" r="2.4" fill="#000"/>
<circle cx="1629.5" cy="373.7" r="2.4" fill="#000"/>
<circle cx="1530.1" cy="287.6" r="2.4" fill="#000"/>
<circle cx="1554.2" cy="293.0" r="2.4" fill="#000"/>
<circle cx="1479.5" cy="308.0" r="2.4" fill="#000"/>
<circle cx="1460.6" cy="329.4" r="2.4" fill="#000"/>
<circle cx="1520.1" cy="318.4" r="2.4" fill="#000"/>
<circle cx="1489.6" cy="337.4" r="2.4" fill="#000"/>
<circle cx="1569.0" cy="336.4" r="2.4" fill="#000"/>
<circle cx="1567.1" cy="352.2" r="2.4" fill="#000"/>
<circle cx="1558.7" cy="361.8" r="2.4" fill="#000"/>
<circle cx="1533.0" cy="363.1" r="2.4" fill="#000"/>
<circle cx="1464.2" cy="352.2" r="2.4" fill="#000"/>
<circle cx="1464.2" cy="378.2" r="2.4" fill="#000"/>
<circle cx="1486.7" cy="381.4" r="2.4" fill="#000"/>
<circle cx="1491.2" cy="384.7" r="2.4" fill="#000"/>
<circle cx="1554.5" cy="375.5" r="2.4" fill="#000"/>
<circle cx="1529.3" cy="388.4" r="2.4" fill="#000"/>
<circle cx="1578.0" cy="383.5" r="2.4" fill="#000"/>
<circle cx="1427.2" cy="402.0" r="2.4" fill="#000"/>
<circle cx="1411.4" cy="408.8" r="2.4" fill="#000"/>
<circle cx="1418.8" cy="411.7" r="2.4" fill="#000"/>
<circle cx="1510.8" cy="398.8" r="2.4" fill="#000"/>
<circle cx="1518.5" cy="405.2" r="2.4" fill="#000"/>
<circle cx="1504.7" cy="408.8" r="2.4" fill="#000"/>
<circle cx="1520.1" cy="413.3" r="2.4" fill="#000"/>
<circle cx="1559.0" cy="399.6" r="2.4" fill="#000"/>
<circle cx="1556.1" cy="404.4" r="2.4" fill="#000"/>
<circle cx="1569.0" cy="416.2" r="2.4" fill="#000"/>
<circle cx="1571.1" cy="425.8" r="2.4" fill="#000"/>
<circle cx="1463.4" cy="422.9" r="2.4" fill="#000"/>
<circle cx="1469.3" cy="424.5" r="2.4" fill="#000"/>
<circle cx="1502.8" cy="426.5" r="2.4" fill="#000"/>
<circle cx="1491.2" cy="429.4" r="2.4" fill="#000"/>
<circle cx="1456.1" cy="429.4" r="2.4" fill="#000"/>
<circle cx="1644.8" cy="381.7" r="2.4" fill="#000"/>
<circle cx="1583.4" cy="387.3" r="2.4" fill="#000"/>
<circle cx="1605.9" cy="387.3" r="2.4" fill="#000"/>
<circle cx="1704.0" cy="395.4" r="2.4" fill="#000"/>
<circle cx="1706.9" cy="394.6" r="2.4" fill="#000"/>
<circle cx="1737.4" cy="396.2" r="2.4" fill="#000"/>
<circle cx="1648.0" cy="407.9" r="2.4" fill="#000"/>
<circle cx="1759.9" cy="402.6" r="2.4" fill="#000"/>
<circle cx="1570.9" cy="432.0" r="2.4" fill="#000"/>
<circle cx="1607.2" cy="435.2" r="2.4" fill="#000"/>
<circle cx="1614.3" cy="448.7" r="2.4" fill="#000"/>
<circle cx="1750.6" cy="413.9" r="2.4" fill="#000"/>
<circle cx="1806.9" cy="452.4" r="2.4" fill="#000"/>
<circle cx="1589.8" cy="522.1" r="2.4" fill="#000"/>
<circle cx="1222.1" cy="406.5" r="2.4" fill="#000"/>
<circle cx="1246.4" cy="427.1" r="2.4" fill="#000"/>
<circle cx="1247.2" cy="436.2" r="2.4" fill="#000"/>
<circle cx="1295.7" cy="435.4" r="2.4" fill="#000"/>
<circle cx="1293.2" cy="469.8" r="2.4" fill="#000"/>
<circle cx="1289.9" cy="475.6" r="2.4" fill="#000"/>
<circle cx="1303.2" cy="486.9" r="2.4" fill="#000"/>
<circle cx="1310.0" cy="481.9" r="2.4" fill="#000"/>
<circle cx="1307.5" cy="492.0" r="2.4" fill="#000"/>
<circle cx="1312.5" cy="490.2" r="2.4" fill="#000"/>
<circle cx="1248.4" cy="520.4" r="2.4" fill="#000"/>
<circle cx="1232.9" cy="533.9" r="2.4" fill="#000"/>
<circle cx="1317.5" cy="514.6" r="2.4" fill="#000"/>
<circle cx="1325.1" cy="536.4" r="2.4" fill="#000"/>
<circle cx="1354.5" cy="435.4" r="2.4" fill="#000"/>
<circle cx="1395.4" cy="436.2" r="2.4" fill="#000"/>
<circle cx="1416.3" cy="454.3" r="2.4" fill="#000"/>
<circle cx="1428.1" cy="463.6" r="2.4" fill="#000"/>
<circle cx="1436.1" cy="471.9" r="2.4" fill="#000"/>
<circle cx="1389.1" cy="466.8" r="2.4" fill="#000"/>
<circle cx="1393.7" cy="489.4" r="2.4" fill="#000"/>
<circle cx="1361.0" cy="514.6" r="2.4" fill="#000"/>
<circle cx="1365.3" cy="534.7" r="2.4" fill="#000"/>
<circle cx="1380.4" cy="537.9" r="2.4" fill="#000"/>
<circle cx="1377.8" cy="554.0" r="2.4" fill="#000"/>
<circle cx="1381.1" cy="553.0" r="2.4" fill="#000"/>
<circle cx="1387.9" cy="552.3" r="2.4" fill="#000"/>
<circle cx="1386.1" cy="579.9" r="2.4" fill="#000"/>
<circle cx="1419.8" cy="502.0" r="2.4" fill="#000"/>
<circle cx="1436.9" cy="491.2" r="2.4" fill="#000"/>
<circle cx="1449.4" cy="510.3" r="2.4" fill="#000"/>
<circle cx="1441.4" cy="522.9" r="2.4" fill="#000"/>
<circle cx="1450.7" cy="528.4" r="2.4" fill="#000"/>
<circle cx="1442.4" cy="553.5" r="2.4" fill="#000"/>
<circle cx="1484.1" cy="514.6" r="2.4" fill="#000"/>
<circle cx="1507.2" cy="507.8" r="2.4" fill="#000"/>
<circle cx="1512.3" cy="530.9" r="2.4" fill="#000"/>
<circle cx="1477.6" cy="438.4" r="2.4" fill="#000"/>
<circle cx="1467.0" cy="446.0" r="2.4" fill="#000"/>
<circle cx="1469.0" cy="456.8" r="2.4" fill="#000"/>
<circle cx="1479.1" cy="457.5" r="2.4" fill="#000"/>
<circle cx="1455.2" cy="462.3" r="2.4" fill="#000"/>
<circle cx="1496.7" cy="456.8" r="2.4" fill="#000"/>
<circle cx="1503.5" cy="470.1" r="2.4" fill="#000"/>
<circle cx="1508.5" cy="470.6" r="2.4" fill="#000"/>
<circle cx="1949.8" cy="263.4" r="2.4" fill="#000"/>
<rect x="1635.6" y="43.7" width="46.3" height="19.8" rx="2.5" fill="#fff" stroke="#333" stroke-width="1.3"/>
<text x="1658.8" y="59.1" font-size="14.4" text-anchor="middle" fill="#1a1a1a" stroke="#1a1a1a" stroke-width="0.3" textLength="36.9" lengthAdjust="spacingAndGlyphs">Fscn1</text>
<rect x="1923.7" y="36.0" width="46.5" height="19.2" rx="2.5" fill="#fff" stroke="#333" stroke-width="1.3"/>
<text x="1947.0" y="50.8" font-size="14.4" text-anchor="middle" fill="#1a1a1a" stroke="#1a1a1a" stroke-width="0.3" textLength="37.1" lengthAdjust="spacingAndGlyphs">Basp1</text>
<rect x="1981.5" y="41.7" width="47.1" height="20.4" rx="2.5" fill="#fff" stroke="#333" stroke-width="1.3"/>
<text x="2005.0" y="57.7" font-size="14.4" text-anchor="middle" fill="#1a1a1a" stroke="#1a1a1a" stroke-width="0.3" textLength="37.7" lengthAdjust="spacingAndGlyphs">Plxnb2</text>
<rect x="2031.4" y="72.8" width="36.8" height="18.8" rx="2.5" fill="#fff" stroke="#333" stroke-width="1.3"/>
<text x="2049.8" y="87.2" font-size="14.4" text-anchor="middle" fill="#1a1a1a" stroke="#1a1a1a" stroke-width="0.3" textLength="27.4" lengthAdjust="spacingAndGlyphs">Neil1</text>
<rect x="1969.7" y="76.6" width="44.6" height="19.3" rx="2.5" fill="#fff" stroke="#333" stroke-width="1.3"/>
<text x="1992.0" y="91.5" font-size="14.4" text-anchor="middle" fill="#1a1a1a" stroke="#1a1a1a" stroke-width="0.3" textLength="35.2" lengthAdjust="spacingAndGlyphs">Anxa2</text>
<rect x="2076.4" y="103.2" width="42.1" height="18.4" rx="2.5" fill="#fff" stroke="#333" stroke-width="1.3"/>
<text x="2097.4" y="117.2" font-size="14.4" text-anchor="middle" fill="#1a1a1a" stroke="#1a1a1a" stroke-width="0.3" textLength="32.7" lengthAdjust="spacingAndGlyphs">Aicda</text>
<rect x="1975.7" y="107.5" width="30.9" height="19.2" rx="2.5" fill="#fff" stroke="#333" stroke-width="1.3"/>
<text x="1991.2" y="122.3" font-size="14.4" text-anchor="middle" fill="#1a1a1a" stroke="#1a1a1a" stroke-width="0.3" textLength="21.5" lengthAdjust="spacingAndGlyphs">Ada</text>
<rect x="2021.1" y="113.0" width="34.7" height="19.3" rx="2.5" fill="#fff" stroke="#333" stroke-width="1.3"/>
<text x="2038.5" y="127.9" font-size="14.4" text-anchor="middle" fill="#1a1a1a" stroke="#1a1a1a" stroke-width="0.3" textLength="25.3" lengthAdjust="spacingAndGlyphs">Bcl6</text>
<rect x="2018.6" y="137.4" width="100.6" height="18.9" rx="2.5" fill="#fff" stroke="#333" stroke-width="1.3"/>
<text x="2068.9" y="151.9" font-size="14.4" text-anchor="middle" fill="#1a1a1a" stroke="#1a1a1a" stroke-width="0.3" textLength="91.2" lengthAdjust="spacingAndGlyphs">8430410A17Rik</text>
<rect x="1925.9" y="132.3" width="55.6" height="18.0" rx="2.5" fill="#fff" stroke="#333" stroke-width="1.3"/>
<text x="1953.7" y="145.9" font-size="14.4" text-anchor="middle" fill="#1a1a1a" stroke="#1a1a1a" stroke-width="0.3" textLength="46.2" lengthAdjust="spacingAndGlyphs">Slc41a2</text>
<rect x="1877.7" y="96.3" width="34.7" height="19.7" rx="2.5" fill="#fff" stroke="#333" stroke-width="1.3"/>
<text x="1895.1" y="111.6" font-size="14.4" text-anchor="middle" fill="#1a1a1a" stroke="#1a1a1a" stroke-width="0.3" textLength="25.3" lengthAdjust="spacingAndGlyphs">Reln</text>
<rect x="1810.7" y="87.5" width="41.7" height="18.8" rx="2.5" fill="#fff" stroke="#333" stroke-width="1.3"/>
<text x="1831.6" y="101.9" font-size="14.4" text-anchor="middle" fill="#1a1a1a" stroke="#1a1a1a" stroke-width="0.3" textLength="32.3" lengthAdjust="spacingAndGlyphs">Lmo7</text>
<rect x="1725.7" y="105.5" width="40.3" height="18.7" rx="2.5" fill="#fff" stroke="#333" stroke-width="1.3"/>
<text x="1745.8" y="119.8" font-size="14.4" text-anchor="middle" fill="#1a1a1a" stroke="#1a1a1a" stroke-width="0.3" textLength="30.9" lengthAdjust="spacingAndGlyphs">Gnaz</text>
<rect x="1682.5" y="107.4" width="32.2" height="19.6" rx="2.5" fill="#fff" stroke="#333" stroke-width="1.3"/>
<text x="1698.6" y="122.6" font-size="14.4" text-anchor="middle" fill="#1a1a1a" stroke="#1a1a1a" stroke-width="0.3" textLength="22.8" lengthAdjust="spacingAndGlyphs">Etl4</text>
<rect x="1831.2" y="118.2" width="32.7" height="19.3" rx="2.5" fill="#fff" stroke="#333" stroke-width="1.3"/>
<text x="1847.6" y="133.1" font-size="14.4" text-anchor="middle" fill="#1a1a1a" stroke="#1a1a1a" stroke-width="0.3" textLength="23.3" lengthAdjust="spacingAndGlyphs">Lipc</text>
<rect x="1662.1" y="138.3" width="60.6" height="19.3" rx="2.5" fill="#fff" stroke="#333" stroke-width="1.3"/>
<text x="1692.4" y="153.2" font-size="14.4" text-anchor="middle" fill="#1a1a1a" stroke="#1a1a1a" stroke-width="0.3" textLength="51.2" lengthAdjust="spacingAndGlyphs">Map3k15</text>
<rect x="1767.4" y="137.5" width="49.1" height="18.0" rx="2.5" fill="#fff" stroke="#333" stroke-width="1.3"/>
<text x="1792.0" y="151.1" font-size="14.4" text-anchor="middle" fill="#1a1a1a" stroke="#1a1a1a" stroke-width="0.3" textLength="39.7" lengthAdjust="spacingAndGlyphs">Atp11a</text>
<rect x="1875.1" y="147.3" width="36.4" height="19.3" rx="2.5" fill="#fff" stroke="#333" stroke-width="1.3"/>
<text x="1893.3" y="162.2" font-size="14.4" text-anchor="middle" fill="#1a1a1a" stroke="#1a1a1a" stroke-width="0.3" textLength="27.0" lengthAdjust="spacingAndGlyphs">Itgb3</text>
<rect x="1827.8" y="160.7" width="36.5" height="19.1" rx="2.5" fill="#fff" stroke="#333" stroke-width="1.3"/>
<text x="1846.0" y="175.4" font-size="14.4" text-anchor="middle" fill="#1a1a1a" stroke="#1a1a1a" stroke-width="0.3" textLength="27.1" lengthAdjust="spacingAndGlyphs">Lcp2</text>
<rect x="1719.6" y="168.0" width="40.0" height="19.5" rx="2.5" fill="#fff" stroke="#333" stroke-width="1.3"/>
<text x="1739.6" y="183.1" font-size="14.4" text-anchor="middle" fill="#1a1a1a" stroke="#1a1a1a" stroke-width="0.3" textLength="30.6" lengthAdjust="spacingAndGlyphs">Rgs9</text>
<rect x="1979.8" y="163.3" width="51.4" height="18.6" rx="2.5" fill="#fff" stroke="#333" stroke-width="1.3"/>
<text x="2005.5" y="177.5" font-size="14.4" text-anchor="middle" fill="#1a1a1a" stroke="#1a1a1a" stroke-width="0.3" textLength="42.0" lengthAdjust="spacingAndGlyphs">Rassf6</text>
<rect x="2067.5" y="167.3" width="51.8" height="18.4" rx="2.5" fill="#fff" stroke="#333" stroke-width="1.3"/>
<text x="2093.4" y="181.3" font-size="14.4" text-anchor="middle" fill="#1a1a1a" stroke="#1a1a1a" stroke-width="0.3" textLength="42.4" lengthAdjust="spacingAndGlyphs">Gcsam</text>
<rect x="1940.7" y="170.7" width="29.7" height="19.5" rx="2.5" fill="#fff" stroke="#333" stroke-width="1.3"/>
<text x="1955.6" y="185.8" font-size="14.4" text-anchor="middle" fill="#1a1a1a" stroke="#1a1a1a" stroke-width="0.3" textLength="20.3" lengthAdjust="spacingAndGlyphs">Lpp</text>
<rect x="1877.7" y="181.5" width="32.4" height="19.6" rx="2.5" fill="#fff" stroke="#333" stroke-width="1.3"/>
<text x="1893.9" y="196.7" font-size="14.4" text-anchor="middle" fill="#1a1a1a" stroke="#1a1a1a" stroke-width="0.3" textLength="23.0" lengthAdjust="spacingAndGlyphs">Ildr1</text>
<rect x="1830.6" y="191.3" width="35.5" height="18.7" rx="2.5" fill="#fff" stroke="#333" stroke-width="1.3"/>
<text x="1848.3" y="205.6" font-size="14.4" text-anchor="middle" fill="#1a1a1a" stroke="#1a1a1a" stroke-width="0.3" textLength="26.1" lengthAdjust="spacingAndGlyphs">Nt5e</text>
<rect x="1633.9" y="187.4" width="51.9" height="19.1" rx="2.5" fill="#fff" stroke="#333" stroke-width="1.3"/>
<text x="1659.8" y="202.1" font-size="14.4" text-anchor="middle" fill="#1a1a1a" stroke="#1a1a1a" stroke-width="0.3" textLength="42.5" lengthAdjust="spacingAndGlyphs">Myom1</text>
<rect x="1759.8" y="199.0" width="47.7" height="18.3" rx="2.5" fill="#fff" stroke="#333" stroke-width="1.3"/>
<text x="1783.7" y="212.9" font-size="14.4" text-anchor="middle" fill="#1a1a1a" stroke="#1a1a1a" stroke-width="0.3" textLength="38.3" lengthAdjust="spacingAndGlyphs">Parm1</text>
<rect x="2028.4" y="197.8" width="35.6" height="18.5" rx="2.5" fill="#fff" stroke="#333" stroke-width="1.3"/>
<text x="2046.2" y="211.9" font-size="14.4" text-anchor="middle" fill="#1a1a1a" stroke="#1a1a1a" stroke-width="0.3" textLength="26.2" lengthAdjust="spacingAndGlyphs">Eaf2</text>
<rect x="2075.5" y="196.7" width="43.6" height="19.8" rx="2.5" fill="#fff" stroke="#333" stroke-width="1.3"/>
<text x="2097.3" y="212.1" font-size="14.4" text-anchor="middle" fill="#1a1a1a" stroke="#1a1a1a" stroke-width="0.3" textLength="34.2" lengthAdjust="spacingAndGlyphs">S1pr2</text>
<rect x="1966.4" y="201.1" width="50.7" height="19.6" rx="2.5" fill="#fff" stroke="#333" stroke-width="1.3"/>
<text x="1991.8" y="216.3" font-size="14.4" text-anchor="middle" fill="#1a1a1a" stroke="#1a1a1a" stroke-width="0.3" textLength="41.3" lengthAdjust="spacingAndGlyphs">Smagp</text>
<rect x="1908.4" y="211.4" width="46.1" height="19.2" rx="2.5" fill="#fff" stroke="#333" stroke-width="1.3"/>
<text x="1931.5" y="226.2" font-size="14.4" text-anchor="middle" fill="#1a1a1a" stroke="#1a1a1a" stroke-width="0.3" textLength="36.7" lengthAdjust="spacingAndGlyphs">Endou</text>
<rect x="2014.2" y="231.1" width="56.7" height="19.5" rx="2.5" fill="#fff" stroke="#333" stroke-width="1.3"/>
<text x="2042.6" y="246.2" font-size="14.4" text-anchor="middle" fill="#1a1a1a" stroke="#1a1a1a" stroke-width="0.3" textLength="47.3" lengthAdjust="spacingAndGlyphs">Arhgap8</text>
<rect x="1819.9" y="219.4" width="40.0" height="19.6" rx="2.5" fill="#fff" stroke="#333" stroke-width="1.3"/>
<text x="1839.9" y="234.6" font-size="14.4" text-anchor="middle" fill="#1a1a1a" stroke="#1a1a1a" stroke-width="0.3" textLength="30.6" lengthAdjust="spacingAndGlyphs">Rgcc</text>
<rect x="1735.8" y="228.2" width="25.2" height="19.9" rx="2.5" fill="#fff" stroke="#333" stroke-width="1.3"/>
<text x="1748.4" y="243.7" font-size="14.4" text-anchor="middle" fill="#1a1a1a" stroke="#1a1a1a" stroke-width="0.3" textLength="15.8" lengthAdjust="spacingAndGlyphs">Gh</text>
<rect x="1772.9" y="238.1" width="34.6" height="20.4" rx="2.5" fill="#fff" stroke="#333" stroke-width="1.3"/>
<text x="1790.2" y="254.1" font-size="14.4" text-anchor="middle" fill="#1a1a1a" stroke="#1a1a1a" stroke-width="0.3" textLength="25.2" lengthAdjust="spacingAndGlyphs">H1fx</text>
<rect x="1874.9" y="241.9" width="42.1" height="18.7" rx="2.5" fill="#fff" stroke="#333" stroke-width="1.3"/>
<text x="1896.0" y="256.2" font-size="14.4" text-anchor="middle" fill="#1a1a1a" stroke="#1a1a1a" stroke-width="0.3" textLength="32.7" lengthAdjust="spacingAndGlyphs">Mybl1</text>
<rect x="1955.5" y="257.8" width="46.4" height="19.7" rx="2.5" fill="#fff" stroke="#333" stroke-width="1.3"/>
<text x="1978.7" y="273.1" font-size="14.4" text-anchor="middle" fill="#1a1a1a" stroke="#1a1a1a" stroke-width="0.3" textLength="37.0" lengthAdjust="spacingAndGlyphs">Nuggc</text>
<rect x="1874.0" y="272.2" width="44.5" height="19.4" rx="2.5" fill="#fff" stroke="#333" stroke-width="1.3"/>
<text x="1896.2" y="287.2" font-size="14.4" text-anchor="middle" fill="#1a1a1a" stroke="#1a1a1a" stroke-width="0.3" textLength="35.1" lengthAdjust="spacingAndGlyphs">Lhfpl4</text>
<rect x="1929.0" y="288.7" width="42.5" height="19.0" rx="2.5" fill="#fff" stroke="#333" stroke-width="1.3"/>
<text x="1950.2" y="303.3" font-size="14.4" text-anchor="middle" fill="#1a1a1a" stroke="#1a1a1a" stroke-width="0.3" textLength="33.1" lengthAdjust="spacingAndGlyphs">Efnb1</text>
<rect x="1854.2" y="302.7" width="61.0" height="18.6" rx="2.5" fill="#fff" stroke="#333" stroke-width="1.3"/>
<text x="1884.7" y="316.9" font-size="14.4" text-anchor="middle" fill="#1a1a1a" stroke="#1a1a1a" stroke-width="0.3" textLength="51.6" lengthAdjust="spacingAndGlyphs">Sh3bgrl2</text>
<rect x="1630.4" y="246.5" width="35.0" height="19.5" rx="2.5" fill="#fff" stroke="#333" stroke-width="1.3"/>
<text x="1647.9" y="261.6" font-size="14.4" text-anchor="middle" fill="#1a1a1a" stroke="#1a1a1a" stroke-width="0.3" textLength="25.6" lengthAdjust="spacingAndGlyphs">Tgfa</text>
<rect x="1700.3" y="269.2" width="100.0" height="19.8" rx="2.5" fill="#fff" stroke="#333" stroke-width="1.3"/>
<text x="1750.3" y="284.6" font-size="14.4" text-anchor="middle" fill="#1a1a1a" stroke="#1a1a1a" stroke-width="0.3" textLength="90.6" lengthAdjust="spacingAndGlyphs">6530402F18Rik</text>
<rect x="1815.5" y="269.2" width="47.8" height="18.2" rx="2.5" fill="#fff" stroke="#333" stroke-width="1.3"/>
<text x="1839.4" y="283.0" font-size="14.4" text-anchor="middle" fill="#1a1a1a" stroke="#1a1a1a" stroke-width="0.3" textLength="38.4" lengthAdjust="spacingAndGlyphs">Cpne5</text>
<rect x="1560.0" y="276.4" width="71.3" height="19.5" rx="2.5" fill="#fff" stroke="#333" stroke-width="1.3"/>
<text x="1595.7" y="291.5" font-size="14.4" text-anchor="middle" fill="#1a1a1a" stroke="#1a1a1a" stroke-width="0.3" textLength="61.9" lengthAdjust="spacingAndGlyphs">BC021614</text>
<rect x="1486.5" y="263.4" width="46.5" height="18.8" rx="2.5" fill="#fff" stroke="#333" stroke-width="1.3"/>
<text x="1509.8" y="277.8" font-size="14.4" text-anchor="middle" fill="#1a1a1a" stroke="#1a1a1a" stroke-width="0.3" textLength="37.1" lengthAdjust="spacingAndGlyphs">Klrb1c</text>
<rect x="1426.9" y="283.1" width="48.2" height="19.2" rx="2.5" fill="#fff" stroke="#333" stroke-width="1.3"/>
<text x="1451.0" y="297.9" font-size="14.4" text-anchor="middle" fill="#1a1a1a" stroke="#1a1a1a" stroke-width="0.3" textLength="38.8" lengthAdjust="spacingAndGlyphs">Adipoq</text>
<rect x="1399.5" y="313.3" width="55.8" height="19.6" rx="2.5" fill="#fff" stroke="#333" stroke-width="1.3"/>
<text x="1427.4" y="328.5" font-size="14.4" text-anchor="middle" fill="#1a1a1a" stroke="#1a1a1a" stroke-width="0.3" textLength="46.4" lengthAdjust="spacingAndGlyphs">Ccdc67</text>
<rect x="1526.6" y="312.3" width="37.6" height="19.8" rx="2.5" fill="#fff" stroke="#333" stroke-width="1.3"/>
<text x="1545.4" y="327.7" font-size="14.4" text-anchor="middle" fill="#1a1a1a" stroke="#1a1a1a" stroke-width="0.3" textLength="28.2" lengthAdjust="spacingAndGlyphs">Ank3</text>
<rect x="1797.0" y="308.3" width="30.6" height="18.8" rx="2.5" fill="#fff" stroke="#333" stroke-width="1.3"/>
<text x="1812.3" y="322.7" font-size="14.4" text-anchor="middle" fill="#1a1a1a" stroke="#1a1a1a" stroke-width="0.3" textLength="21.2" lengthAdjust="spacingAndGlyphs">Slpi</text>
<rect x="1746.4" y="333.5" width="37.0" height="18.5" rx="2.5" fill="#fff" stroke="#333" stroke-width="1.3"/>
<text x="1764.9" y="347.6" font-size="14.4" text-anchor="middle" fill="#1a1a1a" stroke="#1a1a1a" stroke-width="0.3" textLength="27.6" lengthAdjust="spacingAndGlyphs">Tox2</text>
<rect x="1489.6" y="343.3" width="46.8" height="19.3" rx="2.5" fill="#fff" stroke="#333" stroke-width="1.3"/>
<text x="1513.0" y="358.2" font-size="14.4" text-anchor="middle" fill="#1a1a1a" stroke="#1a1a1a" stroke-width="0.3" textLength="37.4" lengthAdjust="spacingAndGlyphs">Kcnh1</text>
<rect x="1420.5" y="357.5" width="37.9" height="19.1" rx="2.5" fill="#fff" stroke="#333" stroke-width="1.3"/>
<text x="1439.5" y="372.2" font-size="14.4" text-anchor="middle" fill="#1a1a1a" stroke="#1a1a1a" stroke-width="0.3" textLength="28.5" lengthAdjust="spacingAndGlyphs">Hey1</text>
<rect x="1690.6" y="368.4" width="42.3" height="18.9" rx="2.5" fill="#fff" stroke="#333" stroke-width="1.3"/>
<text x="1711.8" y="382.9" font-size="14.4" text-anchor="middle" fill="#1a1a1a" stroke="#1a1a1a" stroke-width="0.3" textLength="32.9" lengthAdjust="spacingAndGlyphs">Cdkl1</text>
<rect x="1743.4" y="376.4" width="54.6" height="20.3" rx="2.5" fill="#fff" stroke="#333" stroke-width="1.3"/>
<text x="1770.7" y="392.3" font-size="14.4" text-anchor="middle" fill="#1a1a1a" stroke="#1a1a1a" stroke-width="0.3" textLength="45.2" lengthAdjust="spacingAndGlyphs">Neurl1a</text>
<rect x="1648.5" y="398.6" width="44.2" height="19.3" rx="2.5" fill="#fff" stroke="#333" stroke-width="1.3"/>
<text x="1670.6" y="413.5" font-size="14.4" text-anchor="middle" fill="#1a1a1a" stroke="#1a1a1a" stroke-width="0.3" textLength="34.8" lengthAdjust="spacingAndGlyphs">Gcnt3</text>
<rect x="1756.2" y="408.2" width="102.9" height="19.0" rx="2.5" fill="#fff" stroke="#333" stroke-width="1.3"/>
<text x="1807.7" y="422.8" font-size="14.4" text-anchor="middle" fill="#1a1a1a" stroke="#1a1a1a" stroke-width="0.3" textLength="93.5" lengthAdjust="spacingAndGlyphs">1700029M20Rik</text>
<rect x="1704.8" y="419.2" width="40.7" height="19.6" rx="2.5" fill="#fff" stroke="#333" stroke-width="1.3"/>
<text x="1725.2" y="434.4" font-size="14.4" text-anchor="middle" fill="#1a1a1a" stroke="#1a1a1a" stroke-width="0.3" textLength="31.3" lengthAdjust="spacingAndGlyphs">Ccrl1</text>
<rect x="1559.0" y="454.5" width="61.7" height="19.6" rx="2.5" fill="#fff" stroke="#333" stroke-width="1.3"/>
<text x="1589.8" y="469.7" font-size="14.4" text-anchor="middle" fill="#1a1a1a" stroke="#1a1a1a" stroke-width="0.3" textLength="52.3" lengthAdjust="spacingAndGlyphs">Cacna1h</text>
<rect x="1758.6" y="458.4" width="49.9" height="18.6" rx="2.5" fill="#fff" stroke="#333" stroke-width="1.3"/>
<text x="1783.5" y="472.6" font-size="14.4" text-anchor="middle" fill="#1a1a1a" stroke="#1a1a1a" stroke-width="0.3" textLength="40.5" lengthAdjust="spacingAndGlyphs">Hapln1</text>
<rect x="1545.6" y="527.5" width="39.7" height="19.3" rx="2.5" fill="#fff" stroke="#333" stroke-width="1.3"/>
<text x="1565.4" y="542.4" font-size="14.4" text-anchor="middle" fill="#1a1a1a" stroke="#1a1a1a" stroke-width="0.3" textLength="30.3" lengthAdjust="spacingAndGlyphs">Rgs4</text>
<rect x="1181.9" y="382.2" width="34.4" height="19.3" rx="2.5" fill="#fff" stroke="#333" stroke-width="1.3"/>
<text x="1199.1" y="397.1" font-size="14.4" text-anchor="middle" fill="#1a1a1a" stroke="#1a1a1a" stroke-width="0.3" textLength="25.0" lengthAdjust="spacingAndGlyphs">Six1</text>
<rect x="1253.0" y="404.6" width="30.2" height="19.0" rx="2.5" fill="#fff" stroke="#333" stroke-width="1.3"/>
<text x="1268.1" y="419.2" font-size="14.4" text-anchor="middle" fill="#1a1a1a" stroke="#1a1a1a" stroke-width="0.3" textLength="20.8" lengthAdjust="spacingAndGlyphs">Irg1</text>
<rect x="1295.0" y="411.0" width="49.8" height="19.0" rx="2.5" fill="#fff" stroke="#333" stroke-width="1.3"/>
<text x="1319.9" y="425.6" font-size="14.4" text-anchor="middle" fill="#1a1a1a" stroke="#1a1a1a" stroke-width="0.3" textLength="40.4" lengthAdjust="spacingAndGlyphs">Clec4e</text>
<rect x="1188.1" y="442.5" width="69.9" height="18.1" rx="2.5" fill="#fff" stroke="#333" stroke-width="1.3"/>
<text x="1223.0" y="456.2" font-size="14.4" text-anchor="middle" fill="#1a1a1a" stroke="#1a1a1a" stroke-width="0.3" textLength="60.5" lengthAdjust="spacingAndGlyphs">Tmem136</text>
<rect x="1301.7" y="451.8" width="24.6" height="18.8" rx="2.5" fill="#fff" stroke="#333" stroke-width="1.3"/>
<text x="1314.0" y="466.2" font-size="14.4" text-anchor="middle" fill="#1a1a1a" stroke="#1a1a1a" stroke-width="0.3" textLength="15.2" lengthAdjust="spacingAndGlyphs">Hp</text>
<rect x="1359.5" y="442.5" width="39.7" height="18.1" rx="2.5" fill="#fff" stroke="#333" stroke-width="1.3"/>
<text x="1379.3" y="456.2" font-size="14.4" text-anchor="middle" fill="#1a1a1a" stroke="#1a1a1a" stroke-width="0.3" textLength="30.3" lengthAdjust="spacingAndGlyphs">Nlrp3</text>
<rect x="1232.6" y="482.7" width="68.1" height="18.8" rx="2.5" fill="#fff" stroke="#333" stroke-width="1.3"/>
<text x="1266.7" y="497.1" font-size="14.4" text-anchor="middle" fill="#1a1a1a" stroke="#1a1a1a" stroke-width="0.3" textLength="58.7" lengthAdjust="spacingAndGlyphs">Serpinb9b</text>
<rect x="1448.9" y="482.7" width="68.4" height="19.3" rx="2.5" fill="#fff" stroke="#333" stroke-width="1.3"/>
<text x="1483.1" y="497.6" font-size="14.4" text-anchor="middle" fill="#1a1a1a" stroke="#1a1a1a" stroke-width="0.3" textLength="59.0" lengthAdjust="spacingAndGlyphs">Serpinb1c</text>
<rect x="1448.2" y="530.4" width="31.9" height="19.3" rx="2.5" fill="#fff" stroke="#333" stroke-width="1.3"/>
<text x="1464.2" y="545.3" font-size="14.4" text-anchor="middle" fill="#1a1a1a" stroke="#1a1a1a" stroke-width="0.3" textLength="22.5" lengthAdjust="spacingAndGlyphs">Gda</text>
<rect x="1495.2" y="537.2" width="38.9" height="18.3" rx="2.5" fill="#fff" stroke="#333" stroke-width="1.3"/>
<text x="1514.7" y="551.1" font-size="14.4" text-anchor="middle" fill="#1a1a1a" stroke="#1a1a1a" stroke-width="0.3" textLength="29.5" lengthAdjust="spacingAndGlyphs">Nav3</text>
<rect x="1384.6" y="555.5" width="51.8" height="18.9" rx="2.5" fill="#fff" stroke="#333" stroke-width="1.3"/>
<text x="1410.5" y="570.0" font-size="14.4" text-anchor="middle" fill="#1a1a1a" stroke="#1a1a1a" stroke-width="0.3" textLength="42.4" lengthAdjust="spacingAndGlyphs">Loxhd1</text>
<line x1="1497.1" y1="1.0" x2="1497.1" y2="607.5" stroke="#333" stroke-width="1.5"/>
<line x1="1165.4" y1="397.1" x2="2124.0" y2="397.1" stroke="#333" stroke-width="1.5"/>
<line x1="1165.4" y1="607.1" x2="2122.6" y2="1.0" stroke="#666" stroke-width="1.3" stroke-dasharray="6,5"/>
<rect x="1165.4" y="1.0" width="958.6" height="606.5" fill="none" stroke="#333" stroke-width="1.8"/>
<line x1="1194.8" y1="607.5" x2="1194.8" y2="612.5" stroke="#333" stroke-width="1.4"/>
<text x="1194.8" y="633.8" font-size="19" text-anchor="middle" fill="#4D4D4D">-5</text>
<line x1="1160.4" y1="588.5" x2="1165.4" y2="588.5" stroke="#333" stroke-width="1.4"/>
<text x="1153.6" y="597.0" font-size="19" text-anchor="end" fill="#4D4D4D">-5</text>
<line x1="1497.1" y1="607.5" x2="1497.1" y2="612.5" stroke="#333" stroke-width="1.4"/>
<text x="1497.1" y="633.8" font-size="19" text-anchor="middle" fill="#4D4D4D">0</text>
<line x1="1160.4" y1="397.1" x2="1165.4" y2="397.1" stroke="#333" stroke-width="1.4"/>
<text x="1153.6" y="405.6" font-size="19" text-anchor="end" fill="#4D4D4D">0</text>
<line x1="1799.4" y1="607.5" x2="1799.4" y2="612.5" stroke="#333" stroke-width="1.4"/>
<text x="1799.4" y="633.8" font-size="19" text-anchor="middle" fill="#4D4D4D">5</text>
<line x1="1160.4" y1="205.7" x2="1165.4" y2="205.7" stroke="#333" stroke-width="1.4"/>
<text x="1153.6" y="214.2" font-size="19" text-anchor="end" fill="#4D4D4D">5</text>
<line x1="2101.8" y1="607.5" x2="2101.8" y2="612.5" stroke="#333" stroke-width="1.4"/>
<text x="2101.8" y="633.8" font-size="19" text-anchor="middle" fill="#4D4D4D">10</text>
<line x1="1160.4" y1="14.2" x2="1165.4" y2="14.2" stroke="#333" stroke-width="1.4"/>
<text x="1153.6" y="22.7" font-size="19" text-anchor="end" fill="#4D4D4D">10</text>
</g>
<text x="557.5" y="675.8" font-size="40" text-anchor="middle" fill="#000">GCBC (freshly isolated)</text>
<text x="1641.2" y="676" font-size="40" text-anchor="middle" fill="#000">GCBC (freshly isolated)</text>
<text transform="translate(44.8,500.9) rotate(-90)" font-size="40" fill="#000">GCBC (2h culture)</text>
<text transform="translate(1110.6,560.7) rotate(-90)" font-size="40" fill="#000">GCBC (4h culture + aCD40)</text>
<text x="-4" y="48" font-size="57" font-weight="bold" fill="#000">a</text>
<text x="1.5" y="769.5" font-size="57" font-weight="bold" fill="#000">b</text>
<rect x="156.5" y="825.0" width="175.4" height="5.60" fill="#C42E35"/>
<rect x="156.5" y="830.2" width="175.4" height="18.50" fill="#B71D2D"/>
<rect x="156.5" y="848.3" width="175.4" height="8.30" fill="#E57652"/>
<rect x="156.5" y="856.2" width="175.4" height="9.40" fill="#DF6A4C"/>
<rect x="156.5" y="865.2" width="175.4" height="7.20" fill="#CF4A41"/>
<rect x="156.5" y="872.0" width="175.4" height="3.40" fill="#D65444"/>
<rect x="156.5" y="875.0" width="175.4" height="5.40" fill="#CF4A41"/>
<rect x="156.5" y="880.0" width="175.4" height="3.70" fill="#DC6048"/>
<rect x="156.5" y="883.3" width="175.4" height="21.90" fill="#C93F3B"/>
<rect x="156.5" y="904.8" width="175.4" height="10.60" fill="#F2A283"/>
<rect x="156.5" y="915.0" width="175.4" height="4.40" fill="#EF9A79"/>
<rect x="156.5" y="919.0" width="175.4" height="7.70" fill="#F2A283"/>
<rect x="156.5" y="926.3" width="175.4" height="20.80" fill="#F6BBA0"/>
<rect x="156.5" y="946.7" width="175.4" height="11.70" fill="#F7C5AE"/>
<rect x="156.5" y="958.0" width="175.4" height="16.20" fill="#FBD9C8"/>
<rect x="156.5" y="973.8" width="175.4" height="16.30" fill="#F7C7AF"/>
<rect x="156.5" y="989.7" width="175.4" height="9.40" fill="#F4B698"/>
<rect x="156.5" y="998.7" width="175.4" height="21.70" fill="#F9CDB8"/>
<rect x="156.5" y="1020.0" width="175.4" height="18.00" fill="#FAD6C4"/>
<rect x="156.5" y="1037.6" width="175.4" height="12.80" fill="#F9D1BE"/>
<rect x="156.5" y="1050.0" width="175.4" height="15.20" fill="#F2A686"/>
<rect x="156.5" y="1064.8" width="175.4" height="5.60" fill="#F9CCB6"/>
<rect x="156.5" y="1070.0" width="175.4" height="4.40" fill="#FBD8C7"/>
<rect x="156.5" y="1074.0" width="175.4" height="9.30" fill="#F9CCB6"/>
<rect x="156.5" y="1082.9" width="175.4" height="27.50" fill="#F1A080"/>
<rect x="156.5" y="1110.0" width="175.4" height="18.50" fill="#FBDCCD"/>
<rect x="156.5" y="1128.1" width="175.4" height="7.30" fill="#EE9371"/>
<rect x="156.5" y="1135.0" width="175.4" height="18.40" fill="#F0A07F"/>
<rect x="156.5" y="1153.0" width="175.4" height="4.90" fill="#DF6A4F"/>
<rect x="156.5" y="1157.5" width="175.4" height="32.10" fill="#EE9371"/>
<rect x="156.5" y="1189.2" width="175.4" height="4.90" fill="#E8805F"/>
<rect x="156.5" y="1193.7" width="175.4" height="14.00" fill="#EF9472"/>
<rect x="156.5" y="1207.3" width="175.4" height="9.90" fill="#EA8563"/>
<rect x="156.5" y="1216.8" width="175.4" height="21.90" fill="#E57655"/>
<rect x="156.5" y="1238.3" width="175.4" height="4.90" fill="#AFD3E8"/>
<rect x="156.5" y="1242.8" width="175.4" height="6.10" fill="#C6DFEE"/>
<rect x="156.5" y="1248.5" width="175.4" height="4.90" fill="#D2E6F0"/>
<rect x="156.5" y="1253.0" width="175.4" height="19.60" fill="#AFD3E8"/>
<rect x="156.5" y="1272.2" width="175.4" height="26.40" fill="#D3E4EF"/>
<rect x="156.5" y="1298.2" width="175.4" height="35.50" fill="#DCE8F1"/>
<rect x="156.5" y="1333.3" width="175.4" height="3.80" fill="#CFE2EE"/>
<rect x="156.5" y="1336.7" width="175.4" height="18.50" fill="#E6EDF3"/>
<rect x="156.5" y="1354.8" width="175.4" height="23.00" fill="#EDF1F5"/>
<rect x="156.5" y="1377.4" width="175.4" height="22.60" fill="#D4E5F0"/>
<rect x="156.5" y="1399.6" width="175.4" height="14.40" fill="#FBE5DA"/>
<rect x="156.5" y="1413.6" width="175.4" height="7.20" fill="#FADACA"/>
<rect x="156.5" y="1420.4" width="175.4" height="29.80" fill="#FAE6DC"/>
<rect x="156.5" y="1449.8" width="175.4" height="4.90" fill="#F9DDCF"/>
<rect x="156.5" y="1454.3" width="175.4" height="66.10" fill="#FAE6DC"/>
<rect x="156.5" y="1520.0" width="175.4" height="20.70" fill="#F9EEEA"/>
<rect x="156.5" y="1540.3" width="175.4" height="9.40" fill="#F4AB8C"/>
<rect x="156.5" y="1549.3" width="175.4" height="7.20" fill="#F8CDB8"/>
<rect x="156.5" y="1556.1" width="175.4" height="20.80" fill="#F8D0BC"/>
<rect x="156.5" y="1576.5" width="175.4" height="7.20" fill="#F9D6C4"/>
<rect x="156.5" y="1583.3" width="175.4" height="4.90" fill="#F3AD8F"/>
<rect x="156.5" y="1587.8" width="175.4" height="13.60" fill="#F3F3F5"/>
<rect x="156.5" y="1601.0" width="175.4" height="3.00" fill="#E8EEF2"/>
<rect x="156.5" y="1603.6" width="175.4" height="18.50" fill="#F6F3F3"/>
<rect x="156.5" y="1621.7" width="175.4" height="13.70" fill="#EAF0F5"/>
<rect x="156.5" y="1635.0" width="175.4" height="5.20" fill="#E0EAF2"/>
<rect x="156.5" y="1639.8" width="175.4" height="41.10" fill="#F3F4F6"/>
<rect x="156.5" y="1680.5" width="175.4" height="23.00" fill="#DBE8F1"/>
<rect x="156.5" y="1703.1" width="175.4" height="18.50" fill="#F9EAE2"/>
<rect x="156.5" y="1721.2" width="175.4" height="21.80" fill="#E4EDF4"/>
<rect x="156.5" y="1742.6" width="175.4" height="9.80" fill="#F5F4F4"/>
<rect x="156.5" y="1752.0" width="175.4" height="9.40" fill="#F8EFEA"/>
<rect x="156.5" y="1761.0" width="175.4" height="15.40" fill="#F5F4F4"/>
<rect x="156.5" y="1776.0" width="175.4" height="8.40" fill="#F8EFEA"/>
<rect x="156.5" y="1784.0" width="175.4" height="4.30" fill="#F5F4F4"/>
<rect x="156.5" y="1787.9" width="175.4" height="18.50" fill="#EBF0F5"/>
<rect x="156.5" y="1806.0" width="175.4" height="9.40" fill="#E2ECF4"/>
<rect x="156.5" y="1815.0" width="175.4" height="16.30" fill="#F9E6DC"/>
<rect x="156.5" y="1830.9" width="175.4" height="16.20" fill="#F8EFEA"/>
<rect x="156.5" y="1846.7" width="175.4" height="20.70" fill="#F5F3F5"/>
<rect x="156.5" y="1867.0" width="175.4" height="11.80" fill="#F8F0EC"/>
<rect x="156.5" y="1878.4" width="175.4" height="20.70" fill="#F8EBE4"/>
<rect x="156.5" y="1898.7" width="175.4" height="17.70" fill="#FAE1D5"/>
<rect x="331.5" y="825.0" width="174.4" height="4.40" fill="#D2503F"/>
<rect x="331.5" y="829.0" width="174.4" height="3.40" fill="#D95E48"/>
<rect x="331.5" y="832.0" width="174.4" height="4.20" fill="#D2503F"/>
<rect x="331.5" y="835.8" width="174.4" height="12.90" fill="#BF2A33"/>
<rect x="331.5" y="848.3" width="174.4" height="18.50" fill="#E06E4F"/>
<rect x="331.5" y="866.4" width="174.4" height="28.70" fill="#D45A48"/>
<rect x="331.5" y="894.7" width="174.4" height="11.20" fill="#C9413D"/>
<rect x="331.5" y="905.5" width="174.4" height="23.50" fill="#F6B496"/>
<rect x="331.5" y="928.6" width="174.4" height="23.00" fill="#F8C3AA"/>
<rect x="331.5" y="951.2" width="174.4" height="17.40" fill="#F4B092"/>
<rect x="331.5" y="968.2" width="174.4" height="17.40" fill="#F9CBB5"/>
<rect x="331.5" y="985.2" width="174.4" height="65.20" fill="#FADBCB"/>
<rect x="331.5" y="1050.0" width="174.4" height="22.00" fill="#F2A788"/>
<rect x="331.5" y="1071.6" width="174.4" height="45.60" fill="#F7C0A6"/>
<rect x="331.5" y="1116.8" width="174.4" height="8.30" fill="#DA5F4A"/>
<rect x="331.5" y="1124.7" width="174.4" height="28.70" fill="#F2A584"/>
<rect x="331.5" y="1153.0" width="174.4" height="11.70" fill="#EC8D6B"/>
<rect x="331.5" y="1164.3" width="174.4" height="29.80" fill="#F4B090"/>
<rect x="331.5" y="1193.7" width="174.4" height="11.70" fill="#DC644C"/>
<rect x="331.5" y="1205.0" width="174.4" height="15.40" fill="#EB8A68"/>
<rect x="331.5" y="1220.0" width="174.4" height="18.70" fill="#EB8460"/>
<rect x="331.5" y="1238.3" width="174.4" height="17.30" fill="#E2ECF4"/>
<rect x="331.5" y="1255.2" width="174.4" height="8.40" fill="#B7D6E8"/>
<rect x="331.5" y="1263.2" width="174.4" height="26.40" fill="#B8D8E7"/>
<rect x="331.5" y="1289.2" width="174.4" height="23.00" fill="#D3E5EF"/>
<rect x="331.5" y="1311.8" width="174.4" height="23.00" fill="#D1E2EC"/>
<rect x="331.5" y="1334.4" width="174.4" height="23.00" fill="#E3EBF1"/>
<rect x="331.5" y="1357.0" width="174.4" height="25.40" fill="#DFEAF0"/>
<rect x="331.5" y="1382.0" width="174.4" height="9.40" fill="#EEF3F8"/>
<rect x="331.5" y="1391.0" width="174.4" height="9.00" fill="#DEE9F1"/>
<rect x="331.5" y="1399.6" width="174.4" height="14.40" fill="#FAE3D7"/>
<rect x="331.5" y="1413.6" width="174.4" height="20.80" fill="#FBDCCB"/>
<rect x="331.5" y="1434.0" width="174.4" height="11.60" fill="#F8F0EC"/>
<rect x="331.5" y="1445.2" width="174.4" height="41.20" fill="#FAE4D9"/>
<rect x="331.5" y="1486.0" width="174.4" height="45.60" fill="#F9E8E0"/>
<rect x="331.5" y="1531.2" width="174.4" height="7.20" fill="#F8F1EE"/>
<rect x="331.5" y="1538.0" width="174.4" height="10.60" fill="#FADACA"/>
<rect x="331.5" y="1548.2" width="174.4" height="8.30" fill="#F6BCA2"/>
<rect x="331.5" y="1556.1" width="174.4" height="32.10" fill="#FAE0D2"/>
<rect x="331.5" y="1587.8" width="174.4" height="16.20" fill="#EEF2F5"/>
<rect x="331.5" y="1603.6" width="174.4" height="27.50" fill="#EBF0F4"/>
<rect x="331.5" y="1630.7" width="174.4" height="34.40" fill="#EEF1F4"/>
<rect x="331.5" y="1664.7" width="174.4" height="38.80" fill="#E6EEF4"/>
<rect x="331.5" y="1703.1" width="174.4" height="21.80" fill="#F3F3F5"/>
<rect x="331.5" y="1724.5" width="174.4" height="20.80" fill="#F8EEEA"/>
<rect x="331.5" y="1744.9" width="174.4" height="27.50" fill="#F3F4F5"/>
<rect x="331.5" y="1772.0" width="174.4" height="14.00" fill="#F8EBE4"/>
<rect x="331.5" y="1785.6" width="174.4" height="11.70" fill="#EDF1F4"/>
<rect x="331.5" y="1796.9" width="174.4" height="23.00" fill="#FAE1D4"/>
<rect x="331.5" y="1819.5" width="174.4" height="54.70" fill="#F7F1EE"/>
<rect x="331.5" y="1873.8" width="174.4" height="25.30" fill="#F9E6DD"/>
<rect x="331.5" y="1898.7" width="174.4" height="17.70" fill="#F8EDE7"/>
<rect x="505.5" y="825.0" width="176.4" height="11.20" fill="#EE8B65"/>
<rect x="505.5" y="835.8" width="176.4" height="5.00" fill="#C9413C"/>
<rect x="505.5" y="840.4" width="176.4" height="9.40" fill="#D95E48"/>
<rect x="505.5" y="849.4" width="176.4" height="7.20" fill="#E8805E"/>
<rect x="505.5" y="856.2" width="176.4" height="10.60" fill="#E36F53"/>
<rect x="505.5" y="866.4" width="176.4" height="15.10" fill="#D04B42"/>
<rect x="505.5" y="881.1" width="176.4" height="14.00" fill="#E57654"/>
<rect x="505.5" y="894.7" width="176.4" height="11.20" fill="#D04B42"/>
<rect x="505.5" y="905.5" width="176.4" height="18.90" fill="#F8C2A9"/>
<rect x="505.5" y="924.0" width="176.4" height="23.10" fill="#F5B295"/>
<rect x="505.5" y="946.7" width="176.4" height="14.00" fill="#FAD5C3"/>
<rect x="505.5" y="960.3" width="176.4" height="18.50" fill="#F8C4AB"/>
<rect x="505.5" y="978.4" width="176.4" height="11.70" fill="#F5B69A"/>
<rect x="505.5" y="989.7" width="176.4" height="18.70" fill="#FBE3D6"/>
<rect x="505.5" y="1008.0" width="176.4" height="30.00" fill="#FBDACA"/>
<rect x="505.5" y="1037.6" width="176.4" height="25.30" fill="#FBE3D8"/>
<rect x="505.5" y="1062.5" width="176.4" height="20.80" fill="#F9D0BC"/>
<rect x="505.5" y="1082.9" width="176.4" height="25.30" fill="#F4B394"/>
<rect x="505.5" y="1107.8" width="176.4" height="4.90" fill="#F9CBB5"/>
<rect x="505.5" y="1112.3" width="176.4" height="20.70" fill="#EC8A69"/>
<rect x="505.5" y="1132.6" width="176.4" height="20.80" fill="#F1A282"/>
<rect x="505.5" y="1153.0" width="176.4" height="20.80" fill="#F5B598"/>
<rect x="505.5" y="1173.4" width="176.4" height="20.70" fill="#F2A888"/>
<rect x="505.5" y="1193.7" width="176.4" height="5.00" fill="#E57257"/>
<rect x="505.5" y="1198.3" width="176.4" height="40.40" fill="#EF9270"/>
<rect x="505.5" y="1238.3" width="176.4" height="17.30" fill="#F0F2F5"/>
<rect x="505.5" y="1255.2" width="176.4" height="10.60" fill="#A9D1E2"/>
<rect x="505.5" y="1265.4" width="176.4" height="12.90" fill="#DEE8F2"/>
<rect x="505.5" y="1277.9" width="176.4" height="19.50" fill="#BAD6E9"/>
<rect x="505.5" y="1297.0" width="176.4" height="11.80" fill="#D5E5F0"/>
<rect x="505.5" y="1308.4" width="176.4" height="3.80" fill="#A2C8DF"/>
<rect x="505.5" y="1311.8" width="176.4" height="24.20" fill="#DCE8F1"/>
<rect x="505.5" y="1335.6" width="176.4" height="19.60" fill="#EAF0F3"/>
<rect x="505.5" y="1354.8" width="176.4" height="20.80" fill="#DEE8F1"/>
<rect x="505.5" y="1375.2" width="176.4" height="24.80" fill="#D3E3EF"/>
<rect x="505.5" y="1399.6" width="176.4" height="34.80" fill="#FBDDCD"/>
<rect x="505.5" y="1434.0" width="176.4" height="11.60" fill="#F7F2F0"/>
<rect x="505.5" y="1445.2" width="176.4" height="11.20" fill="#FADDCE"/>
<rect x="505.5" y="1456.0" width="176.4" height="12.40" fill="#F9D6C4"/>
<rect x="505.5" y="1468.0" width="176.4" height="7.10" fill="#FADDCE"/>
<rect x="505.5" y="1474.7" width="176.4" height="9.40" fill="#F5F2F0"/>
<rect x="505.5" y="1483.7" width="176.4" height="52.40" fill="#FAE6DC"/>
<rect x="505.5" y="1535.7" width="176.4" height="7.20" fill="#F8F2F0"/>
<rect x="505.5" y="1542.5" width="176.4" height="7.20" fill="#FADFD1"/>
<rect x="505.5" y="1549.3" width="176.4" height="9.50" fill="#F9ECE5"/>
<rect x="505.5" y="1558.4" width="176.4" height="29.80" fill="#FAE0D2"/>
<rect x="505.5" y="1587.8" width="176.4" height="2.60" fill="#EEF2F5"/>
<rect x="505.5" y="1590.0" width="176.4" height="14.00" fill="#F4F0EF"/>
<rect x="505.5" y="1603.6" width="176.4" height="23.80" fill="#ECF0F4"/>
<rect x="505.5" y="1627.0" width="176.4" height="3.40" fill="#F7F7F7"/>
<rect x="505.5" y="1630.0" width="176.4" height="30.40" fill="#EDF0F3"/>
<rect x="505.5" y="1660.0" width="176.4" height="20.90" fill="#E3ECF2"/>
<rect x="505.5" y="1680.5" width="176.4" height="13.90" fill="#DCE9F0"/>
<rect x="505.5" y="1694.0" width="176.4" height="9.50" fill="#EEF2F5"/>
<rect x="505.5" y="1703.1" width="176.4" height="18.50" fill="#F9DFD1"/>
<rect x="505.5" y="1721.2" width="176.4" height="21.80" fill="#F7EEEA"/>
<rect x="505.5" y="1742.6" width="176.4" height="7.20" fill="#F8E3D8"/>
<rect x="505.5" y="1749.4" width="176.4" height="25.30" fill="#F4F3F5"/>
<rect x="505.5" y="1774.3" width="176.4" height="14.00" fill="#F9E8E0"/>
<rect x="505.5" y="1787.9" width="176.4" height="9.40" fill="#E6EEF6"/>
<rect x="505.5" y="1796.9" width="176.4" height="23.00" fill="#F9E2D5"/>
<rect x="505.5" y="1819.5" width="176.4" height="11.80" fill="#E7EEF4"/>
<rect x="505.5" y="1830.9" width="176.4" height="45.60" fill="#F4F4F3"/>
<rect x="505.5" y="1876.1" width="176.4" height="29.80" fill="#F9E4DA"/>
<rect x="505.5" y="1905.5" width="176.4" height="10.90" fill="#F8EDE8"/>
<rect x="681.5" y="825.0" width="175.4" height="11.20" fill="#CB3A3A"/>
<rect x="681.5" y="835.8" width="175.4" height="13.60" fill="#BE2833"/>
<rect x="681.5" y="849.0" width="175.4" height="28.00" fill="#E06C50"/>
<rect x="681.5" y="876.6" width="175.4" height="4.80" fill="#E87E5E"/>
<rect x="681.5" y="881.0" width="175.4" height="14.10" fill="#D14D43"/>
<rect x="681.5" y="894.7" width="175.4" height="11.20" fill="#C42F37"/>
<rect x="681.5" y="905.5" width="175.4" height="17.90" fill="#F5B193"/>
<rect x="681.5" y="923.0" width="175.4" height="19.40" fill="#FBD5C3"/>
<rect x="681.5" y="942.0" width="175.4" height="20.90" fill="#F7BCA0"/>
<rect x="681.5" y="962.5" width="175.4" height="7.20" fill="#EE9070"/>
<rect x="681.5" y="969.3" width="175.4" height="11.70" fill="#F6B89C"/>
<rect x="681.5" y="980.6" width="175.4" height="27.60" fill="#FBE6DB"/>
<rect x="681.5" y="1007.8" width="175.4" height="18.90" fill="#FCDCCB"/>
<rect x="681.5" y="1026.3" width="175.4" height="24.10" fill="#F9D2BF"/>
<rect x="681.5" y="1050.0" width="175.4" height="22.00" fill="#F5B194"/>
<rect x="681.5" y="1071.6" width="175.4" height="10.50" fill="#F8C8B0"/>
<rect x="681.5" y="1081.7" width="175.4" height="8.40" fill="#FBE3D8"/>
<rect x="681.5" y="1089.7" width="175.4" height="28.70" fill="#F8C8B0"/>
<rect x="681.5" y="1118.0" width="175.4" height="4.90" fill="#EE9371"/>
<rect x="681.5" y="1122.5" width="175.4" height="29.80" fill="#F4AD8E"/>
<rect x="681.5" y="1151.9" width="175.4" height="21.90" fill="#EF9575"/>
<rect x="681.5" y="1173.4" width="175.4" height="8.30" fill="#F5B194"/>
<rect x="681.5" y="1181.3" width="175.4" height="6.10" fill="#E57A5C"/>
<rect x="681.5" y="1187.0" width="175.4" height="6.00" fill="#DC644C"/>
<rect x="681.5" y="1192.6" width="175.4" height="7.20" fill="#EB8A69"/>
<rect x="681.5" y="1199.4" width="175.4" height="4.90" fill="#E06C52"/>
<rect x="681.5" y="1203.9" width="175.4" height="13.30" fill="#EF9574"/>
<rect x="681.5" y="1216.8" width="175.4" height="10.60" fill="#EB8462"/>
<rect x="681.5" y="1227.0" width="175.4" height="11.70" fill="#F09C7A"/>
<rect x="681.5" y="1238.3" width="175.4" height="6.10" fill="#C5DFEE"/>
<rect x="681.5" y="1244.0" width="175.4" height="11.60" fill="#EEF2F6"/>
<rect x="681.5" y="1255.2" width="175.4" height="11.80" fill="#AACFE3"/>
<rect x="681.5" y="1266.6" width="175.4" height="18.50" fill="#D5E5EF"/>
<rect x="681.5" y="1284.7" width="175.4" height="7.10" fill="#C0DAEB"/>
<rect x="681.5" y="1291.4" width="175.4" height="22.00" fill="#D9E7F1"/>
<rect x="681.5" y="1313.0" width="175.4" height="12.80" fill="#A7CEE3"/>
<rect x="681.5" y="1325.4" width="175.4" height="18.50" fill="#D3E4EF"/>
<rect x="681.5" y="1343.5" width="175.4" height="13.90" fill="#E8EEF3"/>
<rect x="681.5" y="1357.0" width="175.4" height="19.70" fill="#E3ECF1"/>
<rect x="681.5" y="1376.3" width="175.4" height="23.70" fill="#E5EDF4"/>
<rect x="681.5" y="1399.6" width="175.4" height="34.80" fill="#FBDDCD"/>
<rect x="681.5" y="1434.0" width="175.4" height="18.40" fill="#F8EFEA"/>
<rect x="681.5" y="1452.0" width="175.4" height="23.10" fill="#FAE9E1"/>
<rect x="681.5" y="1474.7" width="175.4" height="34.30" fill="#FAE4D9"/>
<rect x="681.5" y="1508.6" width="175.4" height="34.30" fill="#FBDFD1"/>
<rect x="681.5" y="1542.5" width="175.4" height="7.20" fill="#F8F1EE"/>
<rect x="681.5" y="1549.3" width="175.4" height="38.90" fill="#FADBCB"/>
<rect x="681.5" y="1587.8" width="175.4" height="18.40" fill="#B5D6E8"/>
<rect x="681.5" y="1605.8" width="175.4" height="52.50" fill="#EEF1F4"/>
<rect x="681.5" y="1657.9" width="175.4" height="11.70" fill="#F6F2F3"/>
<rect x="681.5" y="1669.2" width="175.4" height="29.80" fill="#E8EEF3"/>
<rect x="681.5" y="1698.6" width="175.4" height="27.50" fill="#F4F3F3"/>
<rect x="681.5" y="1725.7" width="175.4" height="23.10" fill="#EFF2F5"/>
<rect x="681.5" y="1748.4" width="175.4" height="7.20" fill="#E2ECF4"/>
<rect x="681.5" y="1755.2" width="175.4" height="12.70" fill="#F4F4F6"/>
<rect x="681.5" y="1767.5" width="175.4" height="18.50" fill="#F8ECE6"/>
<rect x="681.5" y="1785.6" width="175.4" height="9.50" fill="#F1F2F3"/>
<rect x="681.5" y="1794.7" width="175.4" height="23.00" fill="#F9E6DC"/>
<rect x="681.5" y="1817.3" width="175.4" height="16.20" fill="#F4F3F3"/>
<rect x="681.5" y="1833.1" width="175.4" height="32.10" fill="#F8EDE8"/>
<rect x="681.5" y="1864.8" width="175.4" height="11.70" fill="#F9E3D8"/>
<rect x="681.5" y="1876.1" width="175.4" height="25.30" fill="#F6F1F0"/>
<rect x="681.5" y="1901.0" width="175.4" height="15.40" fill="#F7EEE9"/>
<rect x="856.5" y="825.0" width="175.4" height="6.40" fill="#F2A07F"/>
<rect x="856.5" y="831.0" width="175.4" height="3.40" fill="#F5B092"/>
<rect x="856.5" y="834.0" width="175.4" height="4.40" fill="#F2A07F"/>
<rect x="856.5" y="838.0" width="175.4" height="11.40" fill="#E27252"/>
<rect x="856.5" y="849.0" width="175.4" height="28.00" fill="#EF9472"/>
<rect x="856.5" y="876.6" width="175.4" height="7.10" fill="#C53337"/>
<rect x="856.5" y="883.3" width="175.4" height="22.60" fill="#DA6349"/>
<rect x="856.5" y="905.5" width="175.4" height="18.90" fill="#FAD3C0"/>
<rect x="856.5" y="924.0" width="175.4" height="50.20" fill="#F8C2A8"/>
<rect x="856.5" y="973.8" width="175.4" height="6.10" fill="#EE8C69"/>
<rect x="856.5" y="979.5" width="175.4" height="20.90" fill="#FBE9E1"/>
<rect x="856.5" y="1000.0" width="175.4" height="15.40" fill="#FAE0D3"/>
<rect x="856.5" y="1015.0" width="175.4" height="68.40" fill="#FBE2D6"/>
<rect x="856.5" y="1083.0" width="175.4" height="5.40" fill="#FBEAE2"/>
<rect x="856.5" y="1088.0" width="175.4" height="22.40" fill="#FBE2D6"/>
<rect x="856.5" y="1110.0" width="175.4" height="8.40" fill="#BF2632"/>
<rect x="856.5" y="1118.0" width="175.4" height="7.10" fill="#F6BCA0"/>
<rect x="856.5" y="1124.7" width="175.4" height="27.60" fill="#F1A281"/>
<rect x="856.5" y="1151.9" width="175.4" height="29.80" fill="#F8C4AB"/>
<rect x="856.5" y="1181.3" width="175.4" height="11.70" fill="#E06C52"/>
<rect x="856.5" y="1192.6" width="175.4" height="17.80" fill="#F4AE8F"/>
<rect x="856.5" y="1210.0" width="175.4" height="28.70" fill="#F5A886"/>
<rect x="856.5" y="1238.3" width="175.4" height="17.30" fill="#F2F3F6"/>
<rect x="856.5" y="1255.2" width="175.4" height="11.80" fill="#CFE2EF"/>
<rect x="856.5" y="1266.6" width="175.4" height="7.10" fill="#F0F2F6"/>
<rect x="856.5" y="1273.3" width="175.4" height="28.70" fill="#DCE8F1"/>
<rect x="856.5" y="1301.6" width="175.4" height="25.30" fill="#BCD8EC"/>
<rect x="856.5" y="1326.5" width="175.4" height="3.90" fill="#A3C9E2"/>
<rect x="856.5" y="1330.0" width="175.4" height="28.60" fill="#D8E6F1"/>
<rect x="856.5" y="1358.2" width="175.4" height="14.00" fill="#BDD8EA"/>
<rect x="856.5" y="1371.8" width="175.4" height="10.60" fill="#B6D4EA"/>
<rect x="856.5" y="1382.0" width="175.4" height="18.00" fill="#DCE9F1"/>
<rect x="856.5" y="1399.6" width="175.4" height="34.80" fill="#FAE6DC"/>
<rect x="856.5" y="1434.0" width="175.4" height="29.70" fill="#FAE4D9"/>
<rect x="856.5" y="1463.3" width="175.4" height="11.80" fill="#F9EAE3"/>
<rect x="856.5" y="1474.7" width="175.4" height="61.40" fill="#F8F0ED"/>
<rect x="856.5" y="1535.7" width="175.4" height="14.00" fill="#DCE8F2"/>
<rect x="856.5" y="1549.3" width="175.4" height="9.50" fill="#F3F3F5"/>
<rect x="856.5" y="1558.4" width="175.4" height="9.40" fill="#F9ECE6"/>
<rect x="856.5" y="1567.4" width="175.4" height="14.00" fill="#F5F3F5"/>
<rect x="856.5" y="1581.0" width="175.4" height="7.20" fill="#F8EDE9"/>
<rect x="856.5" y="1587.8" width="175.4" height="6.00" fill="#E8EEF4"/>
<rect x="856.5" y="1593.4" width="175.4" height="12.80" fill="#D8E6F1"/>
<rect x="856.5" y="1605.8" width="175.4" height="18.60" fill="#C8DEEE"/>
<rect x="856.5" y="1624.0" width="175.4" height="34.30" fill="#E2EAF3"/>
<rect x="856.5" y="1657.9" width="175.4" height="45.60" fill="#E6EDF3"/>
<rect x="856.5" y="1703.1" width="175.4" height="18.50" fill="#FADACA"/>
<rect x="856.5" y="1721.2" width="175.4" height="2.60" fill="#EEF2F8"/>
<rect x="856.5" y="1723.4" width="175.4" height="15.10" fill="#E6EEF7"/>
<rect x="856.5" y="1738.1" width="175.4" height="11.70" fill="#F8ECE6"/>
<rect x="856.5" y="1749.4" width="175.4" height="18.50" fill="#F4F5F2"/>
<rect x="856.5" y="1767.5" width="175.4" height="19.90" fill="#F9DDCE"/>
<rect x="856.5" y="1787.0" width="175.4" height="8.10" fill="#F8D4C2"/>
<rect x="856.5" y="1794.7" width="175.4" height="11.70" fill="#E9EEF3"/>
<rect x="856.5" y="1806.0" width="175.4" height="16.20" fill="#F2F4F6"/>
<rect x="856.5" y="1821.8" width="175.4" height="7.20" fill="#E6EDF2"/>
<rect x="856.5" y="1828.6" width="175.4" height="14.00" fill="#E2EAF3"/>
<rect x="856.5" y="1842.2" width="175.4" height="7.20" fill="#F8E8E0"/>
<rect x="856.5" y="1849.0" width="175.4" height="52.40" fill="#F1F3F5"/>
<rect x="856.5" y="1901.0" width="175.4" height="15.40" fill="#EBF0F4"/>
<text x="240.3" y="761.5" font-size="40" text-anchor="middle" fill="#000">freshly</text>
<text x="240.3" y="808.5" font-size="40" text-anchor="middle" fill="#000">isolated</text>
<text x="413.3" y="761.5" font-size="40" text-anchor="middle" fill="#000">2h</text>
<text x="413.3" y="808.5" font-size="40" text-anchor="middle" fill="#000">culture</text>
<text x="594.5" y="761.5" font-size="40" text-anchor="middle" fill="#000">2h culture</text>
<text x="594.5" y="808.5" font-size="40" text-anchor="middle" fill="#000">+aCD40</text>
<text x="761.0" y="761.5" font-size="40" text-anchor="middle" fill="#000">4h</text>
<text x="761.0" y="808.5" font-size="40" text-anchor="middle" fill="#000">culture</text>
<text x="940.6" y="761.5" font-size="40" text-anchor="middle" fill="#000">4h culture</text>
<text x="940.6" y="808.5" font-size="40" text-anchor="middle" fill="#000">+aCD40</text>
<defs><linearGradient id="cb" x1="0" y1="0" x2="0" y2="1">
<stop offset="0.0000" stop-color="#B2182B"/>
<stop offset="0.1250" stop-color="#D6604D"/>
<stop offset="0.2500" stop-color="#F4A582"/>
<stop offset="0.3750" stop-color="#FDDBC7"/>
<stop offset="0.5000" stop-color="#F7F7F7"/>
<stop offset="0.6250" stop-color="#D1E5F0"/>
<stop offset="0.7500" stop-color="#92C5DE"/>
<stop offset="0.8750" stop-color="#4393C3"/>
<stop offset="1.0000" stop-color="#2166AC"/>
</linearGradient></defs>
<rect x="1046.5" y="824.8" width="28.8" height="437" fill="url(#cb)"/>
<text transform="translate(1085,839.7) scale(0.95,1)" font-size="29.5" fill="#1a1a1a">10</text>
<text transform="translate(1085,948.9) scale(0.95,1)" font-size="29.5" fill="#1a1a1a">5</text>
<text transform="translate(1085,1058.1) scale(0.95,1)" font-size="29.5" fill="#1a1a1a">0</text>
<text transform="translate(1085,1167.3) scale(0.95,1)" font-size="29.5" fill="#1a1a1a">-5</text>
<text transform="translate(1085,1276.5) scale(0.95,1)" font-size="29.5" fill="#1a1a1a">-10</text>
<text x="34.5" y="1972.5" font-size="56" fill="#000">R</text>
<text x="76" y="1956" font-size="34" fill="#000">2</text>
<text x="96.8" y="1972.5" font-size="56" fill="#000">=</text>
<text x="238.7" y="1972.5" font-size="56" text-anchor="middle" fill="#000">1</text>
<text x="416.75" y="1972.5" font-size="56" text-anchor="middle" fill="#000">0.96</text>
<text x="587.3" y="1972.5" font-size="56" text-anchor="middle" fill="#000">0.94</text>
<text x="758.15" y="1972.5" font-size="56" text-anchor="middle" fill="#000">0.94</text>
<text x="929.05" y="1972.5" font-size="56" text-anchor="middle" fill="#000">0.86</text>
<polyline points="155.5,827.4 151.2,827.4 151.2,832.1 155.5,832.1" fill="none" stroke="#000" stroke-width="2"/>
<polyline points="155.5,841.5 152.8,841.5 152.8,846.2 155.5,846.2" fill="none" stroke="#000" stroke-width="2"/>
<polyline points="155.5,836.8 151.2,836.8 151.2,843.8 152.8,843.8" fill="none" stroke="#000" stroke-width="2"/>
<polyline points="151.2,829.7 141.9,829.7 141.9,840.3 151.2,840.3" fill="none" stroke="#000" stroke-width="2"/>
<polyline points="155.5,850.9 152.3,850.9 152.3,855.6 155.5,855.6" fill="none" stroke="#000" stroke-width="2"/>
<polyline points="152.3,853.2 151.0,853.2 151.0,860.3 155.5,860.3" fill="none" stroke="#000" stroke-width="2"/>
<polyline points="155.5,865.0 151.7,865.0 151.7,869.7 155.5,869.7" fill="none" stroke="#000" stroke-width="2"/>
<polyline points="151.7,867.3 151.0,867.3 151.0,874.4 155.5,874.4" fill="none" stroke="#000" stroke-width="2"/>
<polyline points="151.0,856.7 144.3,856.7 144.3,870.9 151.0,870.9" fill="none" stroke="#000" stroke-width="2"/>
<polyline points="155.5,888.5 153.1,888.5 153.1,893.2 155.5,893.2" fill="none" stroke="#000" stroke-width="2"/>
<polyline points="153.1,890.8 150.9,890.8 150.9,897.9 155.5,897.9" fill="none" stroke="#000" stroke-width="2"/>
<polyline points="150.9,894.4 149.9,894.4 149.9,902.6 155.5,902.6" fill="none" stroke="#000" stroke-width="2"/>
<polyline points="155.5,883.8 148.6,883.8 148.6,898.5 149.9,898.5" fill="none" stroke="#000" stroke-width="2"/>
<polyline points="155.5,879.1 144.3,879.1 144.3,891.1 148.6,891.1" fill="none" stroke="#000" stroke-width="2"/>
<polyline points="144.3,863.8 139.5,863.8 139.5,885.1 144.3,885.1" fill="none" stroke="#000" stroke-width="2"/>
<polyline points="141.9,835.0 133.3,835.0 133.3,874.5 139.5,874.5" fill="none" stroke="#000" stroke-width="2"/>
<polyline points="155.5,907.3 151.9,907.3 151.9,912.0 155.5,912.0" fill="none" stroke="#000" stroke-width="2"/>
<polyline points="151.9,909.6 150.7,909.6 150.7,916.7 155.5,916.7" fill="none" stroke="#000" stroke-width="2"/>
<polyline points="155.5,926.1 152.8,926.1 152.8,930.8 155.5,930.8" fill="none" stroke="#000" stroke-width="2"/>
<polyline points="152.8,928.5 151.2,928.5 151.2,935.5 155.5,935.5" fill="none" stroke="#000" stroke-width="2"/>
<polyline points="155.5,921.4 147.9,921.4 147.9,932.0 151.2,932.0" fill="none" stroke="#000" stroke-width="2"/>
<polyline points="150.7,913.2 146.0,913.2 146.0,926.7 147.9,926.7" fill="none" stroke="#000" stroke-width="2"/>
<polyline points="155.5,944.9 152.1,944.9 152.1,949.6 155.5,949.6" fill="none" stroke="#000" stroke-width="2"/>
<polyline points="155.5,954.3 151.8,954.3 151.8,959.0 155.5,959.0" fill="none" stroke="#000" stroke-width="2"/>
<polyline points="152.1,947.3 150.2,947.3 150.2,956.7 151.8,956.7" fill="none" stroke="#000" stroke-width="2"/>
<polyline points="155.5,940.2 146.8,940.2 146.8,952.0 150.2,952.0" fill="none" stroke="#000" stroke-width="2"/>
<polyline points="155.5,963.7 152.2,963.7 152.2,968.4 155.5,968.4" fill="none" stroke="#000" stroke-width="2"/>
<polyline points="152.2,966.1 149.5,966.1 149.5,973.1 155.5,973.1" fill="none" stroke="#000" stroke-width="2"/>
<polyline points="155.5,977.8 150.8,977.8 150.8,982.5 155.5,982.5" fill="none" stroke="#000" stroke-width="2"/>
<polyline points="149.5,969.6 147.7,969.6 147.7,980.2 150.8,980.2" fill="none" stroke="#000" stroke-width="2"/>
<polyline points="146.8,946.1 145.0,946.1 145.0,974.9 147.7,974.9" fill="none" stroke="#000" stroke-width="2"/>
<polyline points="146.0,919.9 140.2,919.9 140.2,960.5 145.0,960.5" fill="none" stroke="#000" stroke-width="2"/>
<polyline points="155.5,991.9 151.7,991.9 151.7,996.6 155.5,996.6" fill="none" stroke="#000" stroke-width="2"/>
<polyline points="155.5,987.2 149.4,987.2 149.4,994.3 151.7,994.3" fill="none" stroke="#000" stroke-width="2"/>
<polyline points="149.4,990.8 147.8,990.8 147.8,1001.3 155.5,1001.3" fill="none" stroke="#000" stroke-width="2"/>
<polyline points="147.8,996.1 146.0,996.1 146.0,1006.0 155.5,1006.0" fill="none" stroke="#000" stroke-width="2"/>
<polyline points="155.5,1015.5 153.8,1015.5 153.8,1020.2 155.5,1020.2" fill="none" stroke="#000" stroke-width="2"/>
<polyline points="155.5,1010.8 152.7,1010.8 152.7,1017.8 153.8,1017.8" fill="none" stroke="#000" stroke-width="2"/>
<polyline points="155.5,1024.9 153.4,1024.9 153.4,1029.6 155.5,1029.6" fill="none" stroke="#000" stroke-width="2"/>
<polyline points="155.5,1034.3 153.1,1034.3 153.1,1039.0 155.5,1039.0" fill="none" stroke="#000" stroke-width="2"/>
<polyline points="153.4,1027.2 151.3,1027.2 151.3,1036.6 153.1,1036.6" fill="none" stroke="#000" stroke-width="2"/>
<polyline points="152.7,1014.3 150.4,1014.3 150.4,1031.9 151.3,1031.9" fill="none" stroke="#000" stroke-width="2"/>
<polyline points="155.5,1048.4 151.5,1048.4 151.5,1053.1 155.5,1053.1" fill="none" stroke="#000" stroke-width="2"/>
<polyline points="155.5,1043.7 150.5,1043.7 150.5,1050.7 151.5,1050.7" fill="none" stroke="#000" stroke-width="2"/>
<polyline points="155.5,1057.8 150.6,1057.8 150.6,1062.5 155.5,1062.5" fill="none" stroke="#000" stroke-width="2"/>
<polyline points="150.5,1047.2 149.6,1047.2 149.6,1060.1 150.6,1060.1" fill="none" stroke="#000" stroke-width="2"/>
<polyline points="150.4,1023.1 147.6,1023.1 147.6,1053.7 149.6,1053.7" fill="none" stroke="#000" stroke-width="2"/>
<polyline points="155.5,1071.9 153.2,1071.9 153.2,1076.6 155.5,1076.6" fill="none" stroke="#000" stroke-width="2"/>
<polyline points="153.2,1074.2 151.3,1074.2 151.3,1081.3 155.5,1081.3" fill="none" stroke="#000" stroke-width="2"/>
<polyline points="155.5,1086.0 153.6,1086.0 153.6,1090.7 155.5,1090.7" fill="none" stroke="#000" stroke-width="2"/>
<polyline points="153.6,1088.3 153.1,1088.3 153.1,1095.4 155.5,1095.4" fill="none" stroke="#000" stroke-width="2"/>
<polyline points="155.5,1104.8 153.7,1104.8 153.7,1109.5 155.5,1109.5" fill="none" stroke="#000" stroke-width="2"/>
<polyline points="155.5,1100.1 152.9,1100.1 152.9,1107.2 153.7,1107.2" fill="none" stroke="#000" stroke-width="2"/>
<polyline points="153.1,1091.9 152.2,1091.9 152.2,1103.6 152.9,1103.6" fill="none" stroke="#000" stroke-width="2"/>
<polyline points="151.3,1077.8 149.5,1077.8 149.5,1097.8 152.2,1097.8" fill="none" stroke="#000" stroke-width="2"/>
<polyline points="155.5,1067.2 147.1,1067.2 147.1,1087.8 149.5,1087.8" fill="none" stroke="#000" stroke-width="2"/>
<polyline points="147.6,1038.4 141.0,1038.4 141.0,1077.5 147.1,1077.5" fill="none" stroke="#000" stroke-width="2"/>
<polyline points="146.0,1001.1 135.7,1001.1 135.7,1057.9 141.0,1057.9" fill="none" stroke="#000" stroke-width="2"/>
<polyline points="140.2,940.2 128.9,940.2 128.9,1029.5 135.7,1029.5" fill="none" stroke="#000" stroke-width="2"/>
<polyline points="155.5,1123.6 143.4,1123.6 143.4,1128.3 155.5,1128.3" fill="none" stroke="#000" stroke-width="2"/>
<polyline points="155.5,1118.9 136.9,1118.9 136.9,1126.0 143.4,1126.0" fill="none" stroke="#000" stroke-width="2"/>
<polyline points="155.5,1137.7 151.7,1137.7 151.7,1142.4 155.5,1142.4" fill="none" stroke="#000" stroke-width="2"/>
<polyline points="155.5,1133.0 148.3,1133.0 148.3,1140.1 151.7,1140.1" fill="none" stroke="#000" stroke-width="2"/>
<polyline points="155.5,1147.1 149.0,1147.1 149.0,1151.8 155.5,1151.8" fill="none" stroke="#000" stroke-width="2"/>
<polyline points="148.3,1136.5 144.2,1136.5 144.2,1149.5 149.0,1149.5" fill="none" stroke="#000" stroke-width="2"/>
<polyline points="136.9,1122.4 133.6,1122.4 133.6,1143.0 144.2,1143.0" fill="none" stroke="#000" stroke-width="2"/>
<polyline points="155.5,1165.9 149.2,1165.9 149.2,1170.6 155.5,1170.6" fill="none" stroke="#000" stroke-width="2"/>
<polyline points="155.5,1161.2 147.9,1161.2 147.9,1168.3 149.2,1168.3" fill="none" stroke="#000" stroke-width="2"/>
<polyline points="155.5,1156.5 145.7,1156.5 145.7,1164.8 147.9,1164.8" fill="none" stroke="#000" stroke-width="2"/>
<polyline points="155.5,1184.7 153.0,1184.7 153.0,1189.5 155.5,1189.5" fill="none" stroke="#000" stroke-width="2"/>
<polyline points="155.5,1198.9 153.7,1198.9 153.7,1203.6 155.5,1203.6" fill="none" stroke="#000" stroke-width="2"/>
<polyline points="155.5,1194.2 153.3,1194.2 153.3,1201.2 153.7,1201.2" fill="none" stroke="#000" stroke-width="2"/>
<polyline points="153.0,1187.1 151.1,1187.1 151.1,1197.7 153.3,1197.7" fill="none" stroke="#000" stroke-width="2"/>
<polyline points="155.5,1180.0 149.4,1180.0 149.4,1192.4 151.1,1192.4" fill="none" stroke="#000" stroke-width="2"/>
<polyline points="149.4,1186.2 145.9,1186.2 145.9,1208.3 155.5,1208.3" fill="none" stroke="#000" stroke-width="2"/>
<polyline points="155.5,1175.3 142.2,1175.3 142.2,1197.2 145.9,1197.2" fill="none" stroke="#000" stroke-width="2"/>
<polyline points="145.7,1160.6 139.9,1160.6 139.9,1186.3 142.2,1186.3" fill="none" stroke="#000" stroke-width="2"/>
<polyline points="155.5,1213.0 145.5,1213.0 145.5,1217.7 155.5,1217.7" fill="none" stroke="#000" stroke-width="2"/>
<polyline points="155.5,1222.4 147.6,1222.4 147.6,1227.1 155.5,1227.1" fill="none" stroke="#000" stroke-width="2"/>
<polyline points="147.6,1224.7 146.1,1224.7 146.1,1231.8 155.5,1231.8" fill="none" stroke="#000" stroke-width="2"/>
<polyline points="146.1,1228.2 141.4,1228.2 141.4,1236.5 155.5,1236.5" fill="none" stroke="#000" stroke-width="2"/>
<polyline points="145.5,1215.3 137.7,1215.3 137.7,1232.4 141.4,1232.4" fill="none" stroke="#000" stroke-width="2"/>
<polyline points="139.9,1173.5 133.6,1173.5 133.6,1223.8 137.7,1223.8" fill="none" stroke="#000" stroke-width="2"/>
<polyline points="133.6,1132.7 126.5,1132.7 126.5,1198.7 133.6,1198.7" fill="none" stroke="#000" stroke-width="2"/>
<polyline points="155.5,1114.2 113.5,1114.2 113.5,1165.7 126.5,1165.7" fill="none" stroke="#000" stroke-width="2"/>
<polyline points="128.9,984.9 109.2,984.9 109.2,1139.9 113.5,1139.9" fill="none" stroke="#000" stroke-width="2"/>
<polyline points="133.3,854.7 87.7,854.7 87.7,1062.4 109.2,1062.4" fill="none" stroke="#000" stroke-width="2"/>
<polyline points="155.5,1241.2 147.4,1241.2 147.4,1245.9 155.5,1245.9" fill="none" stroke="#000" stroke-width="2"/>
<polyline points="155.5,1250.6 146.6,1250.6 146.6,1255.3 155.5,1255.3" fill="none" stroke="#000" stroke-width="2"/>
<polyline points="147.4,1243.5 144.3,1243.5 144.3,1252.9 146.6,1252.9" fill="none" stroke="#000" stroke-width="2"/>
<polyline points="155.5,1260.0 143.6,1260.0 143.6,1264.7 155.5,1264.7" fill="none" stroke="#000" stroke-width="2"/>
<polyline points="144.3,1248.2 135.0,1248.2 135.0,1262.3 143.6,1262.3" fill="none" stroke="#000" stroke-width="2"/>
<polyline points="155.5,1269.4 150.8,1269.4 150.8,1274.1 155.5,1274.1" fill="none" stroke="#000" stroke-width="2"/>
<polyline points="150.8,1271.7 147.1,1271.7 147.1,1278.8 155.5,1278.8" fill="none" stroke="#000" stroke-width="2"/>
<polyline points="147.1,1275.3 139.0,1275.3 139.0,1283.5 155.5,1283.5" fill="none" stroke="#000" stroke-width="2"/>
<polyline points="155.5,1288.2 142.2,1288.2 142.2,1292.9 155.5,1292.9" fill="none" stroke="#000" stroke-width="2"/>
<polyline points="139.0,1279.4 133.0,1279.4 133.0,1290.6 142.2,1290.6" fill="none" stroke="#000" stroke-width="2"/>
<polyline points="155.5,1302.3 149.7,1302.3 149.7,1307.0 155.5,1307.0" fill="none" stroke="#000" stroke-width="2"/>
<polyline points="149.7,1304.7 144.3,1304.7 144.3,1311.7 155.5,1311.7" fill="none" stroke="#000" stroke-width="2"/>
<polyline points="155.5,1297.6 140.6,1297.6 140.6,1308.2 144.3,1308.2" fill="none" stroke="#000" stroke-width="2"/>
<polyline points="155.5,1321.1 149.8,1321.1 149.8,1325.8 155.5,1325.8" fill="none" stroke="#000" stroke-width="2"/>
<polyline points="155.5,1316.4 148.2,1316.4 148.2,1323.5 149.8,1323.5" fill="none" stroke="#000" stroke-width="2"/>
<polyline points="148.2,1319.9 141.3,1319.9 141.3,1330.5 155.5,1330.5" fill="none" stroke="#000" stroke-width="2"/>
<polyline points="140.6,1302.9 135.0,1302.9 135.0,1325.2 141.3,1325.2" fill="none" stroke="#000" stroke-width="2"/>
<polyline points="155.5,1335.2 147.5,1335.2 147.5,1339.9 155.5,1339.9" fill="none" stroke="#000" stroke-width="2"/>
<polyline points="147.5,1337.6 145.8,1337.6 145.8,1344.6 155.5,1344.6" fill="none" stroke="#000" stroke-width="2"/>
<polyline points="155.5,1349.3 146.7,1349.3 146.7,1354.0 155.5,1354.0" fill="none" stroke="#000" stroke-width="2"/>
<polyline points="145.8,1341.1 141.3,1341.1 141.3,1351.7 146.7,1351.7" fill="none" stroke="#000" stroke-width="2"/>
<polyline points="155.5,1363.4 153.5,1363.4 153.5,1368.1 155.5,1368.1" fill="none" stroke="#000" stroke-width="2"/>
<polyline points="155.5,1358.7 153.0,1358.7 153.0,1365.8 153.5,1365.8" fill="none" stroke="#000" stroke-width="2"/>
<polyline points="153.0,1362.3 151.2,1362.3 151.2,1372.9 155.5,1372.9" fill="none" stroke="#000" stroke-width="2"/>
<polyline points="151.2,1367.6 149.5,1367.6 149.5,1377.6 155.5,1377.6" fill="none" stroke="#000" stroke-width="2"/>
<polyline points="149.5,1372.6 147.3,1372.6 147.3,1382.3 155.5,1382.3" fill="none" stroke="#000" stroke-width="2"/>
<polyline points="155.5,1391.7 151.9,1391.7 151.9,1396.4 155.5,1396.4" fill="none" stroke="#000" stroke-width="2"/>
<polyline points="155.5,1387.0 149.1,1387.0 149.1,1394.0 151.9,1394.0" fill="none" stroke="#000" stroke-width="2"/>
<polyline points="147.3,1377.4 143.5,1377.4 143.5,1390.5 149.1,1390.5" fill="none" stroke="#000" stroke-width="2"/>
<polyline points="141.3,1346.4 133.0,1346.4 133.0,1383.9 143.5,1383.9" fill="none" stroke="#000" stroke-width="2"/>
<polyline points="135.0,1314.1 129.0,1314.1 129.0,1365.2 133.0,1365.2" fill="none" stroke="#000" stroke-width="2"/>
<polyline points="133.0,1285.0 126.0,1285.0 126.0,1339.6 129.0,1339.6" fill="none" stroke="#000" stroke-width="2"/>
<polyline points="135.0,1255.3 122.7,1255.3 122.7,1312.3 126.0,1312.3" fill="none" stroke="#000" stroke-width="2"/>
<polyline points="155.5,1401.1 148.3,1401.1 148.3,1405.8 155.5,1405.8" fill="none" stroke="#000" stroke-width="2"/>
<polyline points="155.5,1410.5 149.8,1410.5 149.8,1415.2 155.5,1415.2" fill="none" stroke="#000" stroke-width="2"/>
<polyline points="148.3,1403.4 144.7,1403.4 144.7,1412.8 149.8,1412.8" fill="none" stroke="#000" stroke-width="2"/>
<polyline points="155.5,1424.6 151.8,1424.6 151.8,1429.3 155.5,1429.3" fill="none" stroke="#000" stroke-width="2"/>
<polyline points="155.5,1419.9 150.2,1419.9 150.2,1426.9 151.8,1426.9" fill="none" stroke="#000" stroke-width="2"/>
<polyline points="155.5,1434.0 151.7,1434.0 151.7,1438.7 155.5,1438.7" fill="none" stroke="#000" stroke-width="2"/>
<polyline points="155.5,1443.4 151.9,1443.4 151.9,1448.1 155.5,1448.1" fill="none" stroke="#000" stroke-width="2"/>
<polyline points="151.7,1436.3 149.9,1436.3 149.9,1445.7 151.9,1445.7" fill="none" stroke="#000" stroke-width="2"/>
<polyline points="150.2,1423.4 148.6,1423.4 148.6,1441.0 149.9,1441.0" fill="none" stroke="#000" stroke-width="2"/>
<polyline points="155.5,1452.8 152.3,1452.8 152.3,1457.5 155.5,1457.5" fill="none" stroke="#000" stroke-width="2"/>
<polyline points="152.3,1455.1 150.7,1455.1 150.7,1462.2 155.5,1462.2" fill="none" stroke="#000" stroke-width="2"/>
<polyline points="148.6,1432.2 146.6,1432.2 146.6,1458.7 150.7,1458.7" fill="none" stroke="#000" stroke-width="2"/>
<polyline points="144.7,1408.1 142.7,1408.1 142.7,1445.4 146.6,1445.4" fill="none" stroke="#000" stroke-width="2"/>
<polyline points="155.5,1471.6 150.9,1471.6 150.9,1476.3 155.5,1476.3" fill="none" stroke="#000" stroke-width="2"/>
<polyline points="155.5,1466.9 147.4,1466.9 147.4,1474.0 150.9,1474.0" fill="none" stroke="#000" stroke-width="2"/>
<polyline points="155.5,1481.0 151.5,1481.0 151.5,1485.7 155.5,1485.7" fill="none" stroke="#000" stroke-width="2"/>
<polyline points="155.5,1490.4 152.0,1490.4 152.0,1495.1 155.5,1495.1" fill="none" stroke="#000" stroke-width="2"/>
<polyline points="151.5,1483.4 149.5,1483.4 149.5,1492.8 152.0,1492.8" fill="none" stroke="#000" stroke-width="2"/>
<polyline points="155.5,1504.5 149.9,1504.5 149.9,1509.2 155.5,1509.2" fill="none" stroke="#000" stroke-width="2"/>
<polyline points="155.5,1499.8 148.0,1499.8 148.0,1506.9 149.9,1506.9" fill="none" stroke="#000" stroke-width="2"/>
<polyline points="149.5,1488.1 146.3,1488.1 146.3,1503.3 148.0,1503.3" fill="none" stroke="#000" stroke-width="2"/>
<polyline points="147.4,1470.4 143.8,1470.4 143.8,1495.7 146.3,1495.7" fill="none" stroke="#000" stroke-width="2"/>
<polyline points="142.7,1426.8 137.9,1426.8 137.9,1483.1 143.8,1483.1" fill="none" stroke="#000" stroke-width="2"/>
<polyline points="155.5,1518.6 150.4,1518.6 150.4,1523.3 155.5,1523.3" fill="none" stroke="#000" stroke-width="2"/>
<polyline points="155.5,1513.9 147.8,1513.9 147.8,1521.0 150.4,1521.0" fill="none" stroke="#000" stroke-width="2"/>
<polyline points="155.5,1528.0 151.3,1528.0 151.3,1532.7 155.5,1532.7" fill="none" stroke="#000" stroke-width="2"/>
<polyline points="151.3,1530.4 147.7,1530.4 147.7,1537.4 155.5,1537.4" fill="none" stroke="#000" stroke-width="2"/>
<polyline points="147.8,1517.5 144.1,1517.5 144.1,1533.9 147.7,1533.9" fill="none" stroke="#000" stroke-width="2"/>
<polyline points="155.5,1542.1 146.9,1542.1 146.9,1546.8 155.5,1546.8" fill="none" stroke="#000" stroke-width="2"/>
<polyline points="144.1,1525.7 139.0,1525.7 139.0,1544.5 146.9,1544.5" fill="none" stroke="#000" stroke-width="2"/>
<polyline points="155.5,1561.0 153.5,1561.0 153.5,1565.7 155.5,1565.7" fill="none" stroke="#000" stroke-width="2"/>
<polyline points="153.5,1563.3 152.2,1563.3 152.2,1570.4 155.5,1570.4" fill="none" stroke="#000" stroke-width="2"/>
<polyline points="152.2,1566.8 149.4,1566.8 149.4,1575.1 155.5,1575.1" fill="none" stroke="#000" stroke-width="2"/>
<polyline points="155.5,1556.3 148.1,1556.3 148.1,1570.9 149.4,1570.9" fill="none" stroke="#000" stroke-width="2"/>
<polyline points="155.5,1551.5 144.9,1551.5 144.9,1563.6 148.1,1563.6" fill="none" stroke="#000" stroke-width="2"/>
<polyline points="155.5,1579.8 140.2,1579.8 140.2,1584.5 155.5,1584.5" fill="none" stroke="#000" stroke-width="2"/>
<polyline points="144.9,1557.6 136.4,1557.6 136.4,1582.1 140.2,1582.1" fill="none" stroke="#000" stroke-width="2"/>
<polyline points="139.0,1535.1 130.3,1535.1 130.3,1569.8 136.4,1569.8" fill="none" stroke="#000" stroke-width="2"/>
<polyline points="137.9,1454.9 122.7,1454.9 122.7,1552.5 130.3,1552.5" fill="none" stroke="#000" stroke-width="2"/>
<polyline points="155.5,1589.2 147.4,1589.2 147.4,1593.9 155.5,1593.9" fill="none" stroke="#000" stroke-width="2"/>
<polyline points="155.5,1598.6 149.5,1598.6 149.5,1603.3 155.5,1603.3" fill="none" stroke="#000" stroke-width="2"/>
<polyline points="147.4,1591.5 143.5,1591.5 143.5,1600.9 149.5,1600.9" fill="none" stroke="#000" stroke-width="2"/>
<polyline points="143.5,1596.2 140.0,1596.2 140.0,1608.0 155.5,1608.0" fill="none" stroke="#000" stroke-width="2"/>
<polyline points="155.5,1612.7 146.1,1612.7 146.1,1617.4 155.5,1617.4" fill="none" stroke="#000" stroke-width="2"/>
<polyline points="146.1,1615.0 144.3,1615.0 144.3,1622.1 155.5,1622.1" fill="none" stroke="#000" stroke-width="2"/>
<polyline points="155.5,1631.5 148.6,1631.5 148.6,1636.2 155.5,1636.2" fill="none" stroke="#000" stroke-width="2"/>
<polyline points="155.5,1626.8 146.1,1626.8 146.1,1633.8 148.6,1633.8" fill="none" stroke="#000" stroke-width="2"/>
<polyline points="144.3,1618.6 141.2,1618.6 141.2,1630.3 146.1,1630.3" fill="none" stroke="#000" stroke-width="2"/>
<polyline points="155.5,1640.9 150.2,1640.9 150.2,1645.6 155.5,1645.6" fill="none" stroke="#000" stroke-width="2"/>
<polyline points="150.2,1643.2 149.0,1643.2 149.0,1650.3 155.5,1650.3" fill="none" stroke="#000" stroke-width="2"/>
<polyline points="155.5,1659.7 152.4,1659.7 152.4,1664.4 155.5,1664.4" fill="none" stroke="#000" stroke-width="2"/>
<polyline points="155.5,1669.1 153.8,1669.1 153.8,1673.8 155.5,1673.8" fill="none" stroke="#000" stroke-width="2"/>
<polyline points="155.5,1678.5 153.8,1678.5 153.8,1683.2 155.5,1683.2" fill="none" stroke="#000" stroke-width="2"/>
<polyline points="153.8,1671.5 153.4,1671.5 153.4,1680.9 153.8,1680.9" fill="none" stroke="#000" stroke-width="2"/>
<polyline points="152.4,1662.1 151.6,1662.1 151.6,1676.2 153.4,1676.2" fill="none" stroke="#000" stroke-width="2"/>
<polyline points="155.5,1655.0 148.1,1655.0 148.1,1669.1 151.6,1669.1" fill="none" stroke="#000" stroke-width="2"/>
<polyline points="148.1,1662.1 145.7,1662.1 145.7,1687.9 155.5,1687.9" fill="none" stroke="#000" stroke-width="2"/>
<polyline points="149.0,1646.8 142.6,1646.8 142.6,1675.0 145.7,1675.0" fill="none" stroke="#000" stroke-width="2"/>
<polyline points="141.2,1624.4 135.0,1624.4 135.0,1660.9 142.6,1660.9" fill="none" stroke="#000" stroke-width="2"/>
<polyline points="140.0,1602.1 130.9,1602.1 130.9,1642.7 135.0,1642.7" fill="none" stroke="#000" stroke-width="2"/>
<polyline points="155.5,1692.6 149.1,1692.6 149.1,1697.3 155.5,1697.3" fill="none" stroke="#000" stroke-width="2"/>
<polyline points="155.5,1706.7 150.9,1706.7 150.9,1711.4 155.5,1711.4" fill="none" stroke="#000" stroke-width="2"/>
<polyline points="155.5,1702.0 149.8,1702.0 149.8,1709.1 150.9,1709.1" fill="none" stroke="#000" stroke-width="2"/>
<polyline points="149.1,1695.0 146.8,1695.0 146.8,1705.6 149.8,1705.6" fill="none" stroke="#000" stroke-width="2"/>
<polyline points="146.8,1700.3 144.9,1700.3 144.9,1716.1 155.5,1716.1" fill="none" stroke="#000" stroke-width="2"/>
<polyline points="155.5,1720.8 145.7,1720.8 145.7,1725.5 155.5,1725.5" fill="none" stroke="#000" stroke-width="2"/>
<polyline points="155.5,1735.0 147.9,1735.0 147.9,1739.7 155.5,1739.7" fill="none" stroke="#000" stroke-width="2"/>
<polyline points="155.5,1730.2 145.2,1730.2 145.2,1737.3 147.9,1737.3" fill="none" stroke="#000" stroke-width="2"/>
<polyline points="145.7,1723.2 143.2,1723.2 143.2,1733.8 145.2,1733.8" fill="none" stroke="#000" stroke-width="2"/>
<polyline points="144.9,1708.2 136.9,1708.2 136.9,1728.5 143.2,1728.5" fill="none" stroke="#000" stroke-width="2"/>
<polyline points="155.5,1744.4 147.6,1744.4 147.6,1749.1 155.5,1749.1" fill="none" stroke="#000" stroke-width="2"/>
<polyline points="155.5,1753.8 148.6,1753.8 148.6,1758.5 155.5,1758.5" fill="none" stroke="#000" stroke-width="2"/>
<polyline points="155.5,1763.2 149.5,1763.2 149.5,1767.9 155.5,1767.9" fill="none" stroke="#000" stroke-width="2"/>
<polyline points="148.6,1756.1 146.8,1756.1 146.8,1765.5 149.5,1765.5" fill="none" stroke="#000" stroke-width="2"/>
<polyline points="147.6,1746.7 145.1,1746.7 145.1,1760.8 146.8,1760.8" fill="none" stroke="#000" stroke-width="2"/>
<polyline points="155.5,1772.6 153.8,1772.6 153.8,1777.3 155.5,1777.3" fill="none" stroke="#000" stroke-width="2"/>
<polyline points="153.8,1774.9 152.1,1774.9 152.1,1782.0 155.5,1782.0" fill="none" stroke="#000" stroke-width="2"/>
<polyline points="155.5,1786.7 152.0,1786.7 152.0,1791.4 155.5,1791.4" fill="none" stroke="#000" stroke-width="2"/>
<polyline points="152.1,1778.4 150.7,1778.4 150.7,1789.0 152.0,1789.0" fill="none" stroke="#000" stroke-width="2"/>
<polyline points="150.7,1783.7 148.6,1783.7 148.6,1796.1 155.5,1796.1" fill="none" stroke="#000" stroke-width="2"/>
<polyline points="145.1,1753.8 142.4,1753.8 142.4,1789.9 148.6,1789.9" fill="none" stroke="#000" stroke-width="2"/>
<polyline points="136.9,1718.3 133.0,1718.3 133.0,1771.8 142.4,1771.8" fill="none" stroke="#000" stroke-width="2"/>
<polyline points="155.5,1800.8 145.8,1800.8 145.8,1805.5 155.5,1805.5" fill="none" stroke="#000" stroke-width="2"/>
<polyline points="155.5,1810.2 144.5,1810.2 144.5,1814.9 155.5,1814.9" fill="none" stroke="#000" stroke-width="2"/>
<polyline points="145.8,1803.1 140.0,1803.1 140.0,1812.5 144.5,1812.5" fill="none" stroke="#000" stroke-width="2"/>
<polyline points="155.5,1824.3 150.0,1824.3 150.0,1829.0 155.5,1829.0" fill="none" stroke="#000" stroke-width="2"/>
<polyline points="155.5,1833.7 149.9,1833.7 149.9,1838.4 155.5,1838.4" fill="none" stroke="#000" stroke-width="2"/>
<polyline points="150.0,1826.7 148.2,1826.7 148.2,1836.1 149.9,1836.1" fill="none" stroke="#000" stroke-width="2"/>
<polyline points="155.5,1819.6 142.3,1819.6 142.3,1831.4 148.2,1831.4" fill="none" stroke="#000" stroke-width="2"/>
<polyline points="142.3,1825.5 138.2,1825.5 138.2,1843.1 155.5,1843.1" fill="none" stroke="#000" stroke-width="2"/>
<polyline points="155.5,1857.2 153.0,1857.2 153.0,1861.9 155.5,1861.9" fill="none" stroke="#000" stroke-width="2"/>
<polyline points="155.5,1852.5 152.6,1852.5 152.6,1859.6 153.0,1859.6" fill="none" stroke="#000" stroke-width="2"/>
<polyline points="155.5,1847.8 149.8,1847.8 149.8,1856.0 152.6,1856.0" fill="none" stroke="#000" stroke-width="2"/>
<polyline points="149.8,1851.9 144.3,1851.9 144.3,1866.6 155.5,1866.6" fill="none" stroke="#000" stroke-width="2"/>
<polyline points="155.5,1885.4 151.1,1885.4 151.1,1890.1 155.5,1890.1" fill="none" stroke="#000" stroke-width="2"/>
<polyline points="155.5,1880.7 149.8,1880.7 149.8,1887.8 151.1,1887.8" fill="none" stroke="#000" stroke-width="2"/>
<polyline points="155.5,1876.0 148.7,1876.0 148.7,1884.3 149.8,1884.3" fill="none" stroke="#000" stroke-width="2"/>
<polyline points="155.5,1871.3 146.5,1871.3 146.5,1880.1 148.7,1880.1" fill="none" stroke="#000" stroke-width="2"/>
<polyline points="155.5,1894.8 152.2,1894.8 152.2,1899.5 155.5,1899.5" fill="none" stroke="#000" stroke-width="2"/>
<polyline points="152.2,1897.2 150.9,1897.2 150.9,1904.2 155.5,1904.2" fill="none" stroke="#000" stroke-width="2"/>
<polyline points="155.5,1908.9 150.0,1908.9 150.0,1913.6 155.5,1913.6" fill="none" stroke="#000" stroke-width="2"/>
<polyline points="150.9,1900.7 148.1,1900.7 148.1,1911.3 150.0,1911.3" fill="none" stroke="#000" stroke-width="2"/>
<polyline points="146.5,1875.7 144.0,1875.7 144.0,1906.0 148.1,1906.0" fill="none" stroke="#000" stroke-width="2"/>
<polyline points="144.3,1859.3 139.4,1859.3 139.4,1890.9 144.0,1890.9" fill="none" stroke="#000" stroke-width="2"/>
<polyline points="138.2,1834.3 134.0,1834.3 134.0,1875.1 139.4,1875.1" fill="none" stroke="#000" stroke-width="2"/>
<polyline points="140.0,1807.8 130.9,1807.8 130.9,1854.7 134.0,1854.7" fill="none" stroke="#000" stroke-width="2"/>
<polyline points="133.0,1745.1 127.9,1745.1 127.9,1831.3 130.9,1831.3" fill="none" stroke="#000" stroke-width="2"/>
<polyline points="130.9,1622.4 115.2,1622.4 115.2,1788.2 127.9,1788.2" fill="none" stroke="#000" stroke-width="2"/>
<polyline points="122.7,1503.7 102.4,1503.7 102.4,1705.3 115.2,1705.3" fill="none" stroke="#000" stroke-width="2"/>
<polyline points="122.7,1283.8 75.8,1283.8 75.8,1604.5 102.4,1604.5" fill="none" stroke="#000" stroke-width="2"/>
<polyline points="87.7,958.6 4.2,958.6 4.2,1444.1 75.8,1444.1" fill="none" stroke="#000" stroke-width="2"/>
</svg></body></html>
